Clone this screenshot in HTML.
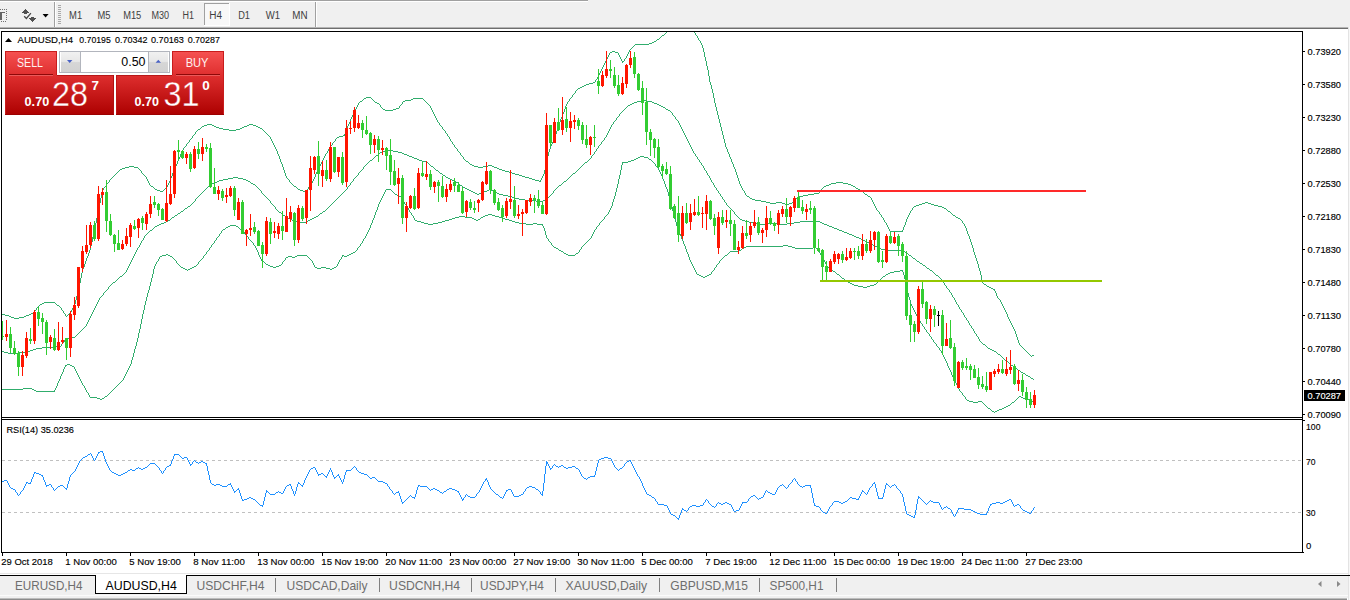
<!DOCTYPE html>
<html><head><meta charset="utf-8"><title>AUDUSD,H4</title>
<style>html,body{margin:0;padding:0;background:#fff;}body{width:1350px;height:600px;overflow:hidden;position:relative;font-family:"Liberation Sans",sans-serif;}svg{position:absolute;left:0;top:0;display:block;}text{font-family:"Liberation Sans",sans-serif;white-space:pre;}</style>
</head><body>
<svg width="1350" height="600" viewBox="0 0 1350 600">
<defs>
<linearGradient id="rg" x1="0" y1="51" x2="0" y2="115" gradientUnits="userSpaceOnUse"><stop offset="0" stop-color="#f65252"/><stop offset="0.36" stop-color="#e03030"/><stop offset="1" stop-color="#ac0000"/></linearGradient>
<linearGradient id="bg" x1="0" y1="0" x2="0" y2="1"><stop offset="0" stop-color="#f1f1f1"/><stop offset="0.47" stop-color="#e7e7e7"/><stop offset="0.53" stop-color="#d6d6d6"/><stop offset="1" stop-color="#d2d2d2"/></linearGradient>
<clipPath id="mc"><rect x="2" y="32" width="1300" height="385"/></clipPath>
</defs>
<g shape-rendering="crispEdges">
<rect x="0" y="0" width="1350" height="27" fill="#f0f0f0" />
<rect x="0" y="0" width="588" height="1" fill="#a0a0a0" />
<rect x="0" y="1" width="588" height="1" fill="#ffffff" />
<rect x="0" y="27" width="1348" height="1" fill="#b4b4b4" />
<rect x="0" y="28" width="1348" height="1" fill="#6e6e6e" />
<rect x="1348" y="27" width="1" height="573" fill="#e3e3e3" />
<rect x="1349" y="27" width="1" height="573" fill="#f7f7f7" />
<rect x="0" y="12" width="5" height="1" fill="#646464" />
<rect x="0" y="13" width="2" height="7" fill="#646464" />
<rect x="0" y="9" width="1" height="1" fill="#707070" />
<rect x="2" y="9" width="1" height="1" fill="#707070" />
<rect x="4" y="9" width="1" height="1" fill="#707070" />
<rect x="6" y="9" width="1" height="1" fill="#707070" />
<rect x="6" y="11" width="1" height="1" fill="#707070" />
<rect x="6" y="13" width="1" height="1" fill="#707070" />
<rect x="6" y="15" width="1" height="1" fill="#707070" />
<rect x="6" y="17" width="1" height="1" fill="#707070" />
<rect x="6" y="19" width="1" height="1" fill="#707070" />
<rect x="1" y="21" width="1" height="1" fill="#707070" />
<rect x="3" y="21" width="1" height="1" fill="#707070" />
<rect x="5" y="21" width="1" height="1" fill="#707070" />
<rect x="54" y="2" width="1" height="25" fill="#a0a0a0" />
<rect x="55" y="2" width="1" height="25" fill="#ffffff" />
<rect x="58" y="5" width="3" height="1" fill="#a8a8a8" />
<rect x="58" y="7" width="3" height="1" fill="#a8a8a8" />
<rect x="58" y="9" width="3" height="1" fill="#a8a8a8" />
<rect x="58" y="11" width="3" height="1" fill="#a8a8a8" />
<rect x="58" y="13" width="3" height="1" fill="#a8a8a8" />
<rect x="58" y="15" width="3" height="1" fill="#a8a8a8" />
<rect x="58" y="17" width="3" height="1" fill="#a8a8a8" />
<rect x="58" y="19" width="3" height="1" fill="#a8a8a8" />
<rect x="58" y="21" width="3" height="1" fill="#a8a8a8" />
<rect x="58" y="23" width="3" height="1" fill="#a8a8a8" />
<rect x="315" y="2" width="1" height="25" fill="#a0a0a0" />
<rect x="316" y="2" width="1" height="25" fill="#ffffff" />
<rect x="204" y="3" width="26" height="23" fill="#f8f8f8" />
<rect x="204" y="3" width="26" height="1" fill="#a0a0a0" />
<rect x="204" y="3" width="1" height="23" fill="#a0a0a0" />
<rect x="204" y="25" width="26" height="1" fill="#ffffff" />
<rect x="229" y="3" width="1" height="23" fill="#ffffff" />
</g>
<g fill="#505050" shape-rendering="crispEdges">
<rect x="25" y="9" width="1" height="1" fill="#505050" />
<rect x="24" y="10" width="3" height="1" fill="#505050" />
<rect x="23" y="11" width="5" height="1" fill="#505050" />
<rect x="22" y="12" width="7" height="1" fill="#505050" />
<rect x="24" y="13" width="3" height="1" fill="#505050" />
<rect x="31" y="17" width="3" height="1" fill="#505050" />
<rect x="29" y="18" width="7" height="1" fill="#505050" />
<rect x="30" y="19" width="5" height="1" fill="#505050" />
<rect x="31" y="20" width="3" height="1" fill="#505050" />
<rect x="32" y="21" width="1" height="1" fill="#505050" />
</g>
<path d="M24.2 16.2 L26.4 18.5 L30.9 13.2" fill="none" stroke="#484848" stroke-width="1.3"/>
<path d="M42.6 14 L48.6 14 L45.6 17.5 Z" fill="#000"/>
<text x="69.1" y="19" font-size="10" fill="#404040" textLength="13.1" lengthAdjust="spacingAndGlyphs" >M1</text>
<text x="97.5" y="19" font-size="10" fill="#404040" textLength="13.0" lengthAdjust="spacingAndGlyphs" >M5</text>
<text x="123.2" y="19" font-size="10" fill="#404040" textLength="18.1" lengthAdjust="spacingAndGlyphs" >M15</text>
<text x="151.4" y="19" font-size="10" fill="#404040" textLength="17.6" lengthAdjust="spacingAndGlyphs" >M30</text>
<text x="182.5" y="19" font-size="10" fill="#404040" textLength="11.5" lengthAdjust="spacingAndGlyphs" >H1</text>
<text x="209.2" y="19" font-size="10" fill="#404040" textLength="12.8" lengthAdjust="spacingAndGlyphs" >H4</text>
<text x="238.2" y="19" font-size="10" fill="#404040" textLength="11.8" lengthAdjust="spacingAndGlyphs" >D1</text>
<text x="265.7" y="19" font-size="10" fill="#404040" textLength="14.3" lengthAdjust="spacingAndGlyphs" >W1</text>
<text x="292.2" y="19" font-size="10" fill="#404040" textLength="15.3" lengthAdjust="spacingAndGlyphs" >MN</text>
<g shape-rendering="crispEdges">
<rect x="1" y="31" width="1302" height="1" fill="#000" />
<rect x="1" y="31" width="1" height="522" fill="#000" />
<rect x="1302" y="31" width="1" height="522" fill="#000" />
<rect x="1" y="417" width="1302" height="1" fill="#000" />
<rect x="1" y="419" width="1302" height="1" fill="#000" />
<rect x="1" y="552" width="1303" height="1" fill="#000" />
<rect x="1303" y="51" width="2" height="1" fill="#000" />
<rect x="1303" y="84" width="2" height="1" fill="#000" />
<rect x="1303" y="117" width="2" height="1" fill="#000" />
<rect x="1303" y="150" width="2" height="1" fill="#000" />
<rect x="1303" y="183" width="2" height="1" fill="#000" />
<rect x="1303" y="216" width="2" height="1" fill="#000" />
<rect x="1303" y="249" width="2" height="1" fill="#000" />
<rect x="1303" y="282" width="2" height="1" fill="#000" />
<rect x="1303" y="315" width="2" height="1" fill="#000" />
<rect x="1303" y="348" width="2" height="1" fill="#000" />
<rect x="1303" y="381" width="2" height="1" fill="#000" />
<rect x="1303" y="414" width="2" height="1" fill="#000" />
<rect x="1303" y="420" width="2" height="1" fill="#000" />
<rect x="2" y="553" width="1" height="3" fill="#000" />
<rect x="66" y="553" width="1" height="3" fill="#000" />
<rect x="130" y="553" width="1" height="3" fill="#000" />
<rect x="194" y="553" width="1" height="3" fill="#000" />
<rect x="258" y="553" width="1" height="3" fill="#000" />
<rect x="322" y="553" width="1" height="3" fill="#000" />
<rect x="386" y="553" width="1" height="3" fill="#000" />
<rect x="450" y="553" width="1" height="3" fill="#000" />
<rect x="514" y="553" width="1" height="3" fill="#000" />
<rect x="578" y="553" width="1" height="3" fill="#000" />
<rect x="642" y="553" width="1" height="3" fill="#000" />
<rect x="706" y="553" width="1" height="3" fill="#000" />
<rect x="770" y="553" width="1" height="3" fill="#000" />
<rect x="834" y="553" width="1" height="3" fill="#000" />
<rect x="898" y="553" width="1" height="3" fill="#000" />
<rect x="962" y="553" width="1" height="3" fill="#000" />
<rect x="1026" y="553" width="1" height="3" fill="#000" />
<line x1="2" y1="460.5" x2="1302" y2="460.5" stroke="#c0c0c0" stroke-width="1" stroke-dasharray="3,3"/>
<line x1="2" y1="512.5" x2="1302" y2="512.5" stroke="#c0c0c0" stroke-width="1" stroke-dasharray="3,3"/>
</g>
<g clip-path="url(#mc)">
<path d="M725.5 143v4M970.5 239v3M550.5 146v3M75.5 300v4M705.5 57v4M718.5 115v4M96.5 218v5M78.5 287v5M545.5 164v6M283.5 167v3M905.5 222v3M704.5 52v5M714.5 98v5M82.5 269v4M549.5 149v3M976.5 258v3M1018.5 340v3M979.5 268v3M738.5 178v3M565.5 106v3M86.5 258v3M971.5 242v3M77.5 292v4M99.5 203v5M903.5 227v3M81.5 273v5M102.5 190v3M710.5 82v3M713.5 93v5M76.5 296v4M553.5 139v3M727.5 149v3M175.5 166v3M98.5 208v5M1017.5 337v3M80.5 278v5M709.5 76v6M719.5 119v4M737.5 175v3M722.5 131v4M101.5 193v5M284.5 170v3M715.5 103v4M559.5 122v3M716.5 107v4M97.5 213v5M980.5 271v4M350.5 119v3M973.5 248v4M558.5 125v3M708.5 70v6M172.5 173v3M279.5 156v3M280.5 159v3M721.5 127v4M562.5 114v3M95.5 223v5M544.5 170v4M972.5 245v3M717.5 111v4M707.5 66v4M85.5 261v3M1007.5 314v3M966.5 228v3M967.5 231v3M906.5 219v3M723.5 135v4M996.5 293v3M93.5 232v5M285.5 173v3M347.5 126v3M315.5 174v3M88.5 253v3M170.5 178v3M977.5 261v3M346.5 129v3M546.5 159v5M739.5 181v3M91.5 242v4M724.5 139v4M720.5 123v4M703.5 48v4M981.5 275v5M564.5 109v3M733.5 164v3M555.5 134v3M702.5 45v3M92.5 237v5M1016.5 334v3M969.5 236v3M982.5 280v3M1015.5 331v3M978.5 264v4M90.5 246v4M282.5 164v3M706.5 61v5M548.5 152v4M712.5 89v4M729.5 154v3M547.5 156v3M277.5 151v3M84.5 264v3M177.5 161v3M79.5 283v4M100.5 198v5M711.5 85v4M735.5 169v3M94.5 228v4M560.5 119v3M736.5 172v3M975.5 255v3M731.5 159v3M557.5 128v3M180.5 154v3M556.5 131v3M89.5 250v3M974.5 252v3M770 203.5h6M782 203.5h3M789 203.5h3M873 203.5h1M922 203.5h3M928 203.5h3M157 190.5h3M163 190.5h1M300 190.5h3M306 190.5h1M743 190.5h1M821 190.5h1M860 190.5h1M750 198.5h2M795 198.5h2M871 198.5h1M83 268.5h1M609 54.5h1M618 54.5h1M627 54.5h1M575 92.5h1M362 100.5h1M373 100.5h1M405 100.5h6M424 100.5h1M569 100.5h1M192 136.5h1M269 136.5h1M339 136.5h4M448 136.5h1M667 31.5h1M693 31.5h1M115 174.5h1M143 174.5h1M515 174.5h4M543 174.5h1M189 141.5h1M272 141.5h1M334 141.5h1M451 141.5h1M364 98.5h2M371 98.5h1M413 98.5h10M570 98.5h1M324 156.5h1M462 156.5h1M176 165.5h1M320 165.5h1M472 165.5h2M488 165.5h4M112 177.5h1M146 177.5h1M171 177.5h1M286 177.5h1M314 177.5h1M525 177.5h4M542 177.5h1M125 167.5h4M134 167.5h4M319 167.5h1M478 167.5h5M494 167.5h3M734 167.5h1M109 180.5h1M147 180.5h1M289 180.5h1M313 180.5h1M535 180.5h4M540 180.5h1M179 157.5h1M324 157.5h1M463 157.5h1M730 157.5h1M635 44.5h14M701 44.5h1M129 166.5h5M319 166.5h1M474 166.5h4M483 166.5h5M492 166.5h2M593 82.5h2M357 105.5h1M380 105.5h1M400 105.5h1M429 105.5h1M566 105.5h1M9 316.5h2M24 316.5h2M66 316.5h1M42 303.5h2M55 303.5h1M1001 303.5h1M355 110.5h1M385 110.5h8M432 110.5h1M109 181.5h1M148 181.5h1M169 181.5h1M289 181.5h1M312 181.5h1M539 181.5h2M359 102.5h1M375 102.5h2M402 102.5h1M426 102.5h1M567 102.5h1M36 308.5h1M61 308.5h1M72 308.5h1M1004 308.5h1M103 188.5h1M154 188.5h1M165 188.5h1M297 188.5h1M308 188.5h1M742 188.5h1M822 188.5h1M856 188.5h2M652 42.5h2M700 42.5h1M675 25.5h1M687 25.5h2M746 195.5h1M803 195.5h5M867 195.5h1M612 51.5h3M629 51.5h1M747 196.5h2M799 196.5h4M868 196.5h2M198 129.5h2M223 129.5h6M236 129.5h4M262 129.5h1M443 129.5h1M184 147.5h1M275 147.5h1M329 147.5h1M455 147.5h1M726 147.5h1M5 315.5h4M26 315.5h3M65 315.5h1M67 315.5h1M38 306.5h1M59 306.5h1M73 306.5h1M1003 306.5h1M1012 325.5h1M278 154.5h1M325 154.5h1M460 154.5h1M202 126.5h2M214 126.5h2M244 126.5h3M256 126.5h2M441 126.5h1M31 313.5h2M64 313.5h1M69 313.5h1M1006 313.5h1M993 289.5h2M888 227.5h1M965 227.5h1M119 170.5h1M140 170.5h1M174 170.5h1M317 170.5h1M502 170.5h3M355 109.5h1M383 109.5h2M393 109.5h3M431 109.5h1M35 310.5h1M62 310.5h1M71 310.5h1M1005 310.5h1M363 99.5h1M372 99.5h1M411 99.5h2M423 99.5h1M569 99.5h1M752 199.5h3M794 199.5h1M871 199.5h1M44 302.5h11M1001 302.5h1M107 183.5h1M149 183.5h1M168 183.5h1M291 183.5h1M311 183.5h1M831 183.5h5M843 183.5h5M436 119.5h1M744 192.5h1M819 192.5h1M863 192.5h1M190 139.5h1M271 139.5h1M335 139.5h1M450 139.5h1M106 185.5h1M150 185.5h1M167 185.5h1M293 185.5h1M310 185.5h1M740 185.5h1M826 185.5h3M851 185.5h2M186 145.5h1M274 145.5h1M331 145.5h1M454 145.5h1M551 145.5h1M360 101.5h2M374 101.5h1M403 101.5h2M425 101.5h1M568 101.5h1M890 231.5h13M745 194.5h1M808 194.5h6M865 194.5h2M631 48.5h1M108 182.5h1M148 182.5h1M169 182.5h1M290 182.5h1M312 182.5h1M836 182.5h7M662 35.5h2M696 35.5h1M194 134.5h1M267 134.5h1M344 134.5h1M447 134.5h1M356 108.5h1M382 108.5h1M396 108.5h3M431 108.5h1M603 65.5h1M116 173.5h1M142 173.5h1M316 173.5h1M512 173.5h3M749 197.5h1M797 197.5h2M870 197.5h1M755 200.5h6M793 200.5h1M872 200.5h1M106 184.5h1M149 184.5h1M168 184.5h1M292 184.5h1M311 184.5h1M740 184.5h1M829 184.5h2M848 184.5h3M766 202.5h4M776 202.5h6M792 202.5h1M873 202.5h1M925 202.5h3M195 132.5h1M265 132.5h1M345 132.5h1M445 132.5h1M610 52.5h2M615 52.5h3M628 52.5h1M1010 322.5h1M1013 327.5h1M572 96.5h1M875 206.5h1M914 206.5h2M938 206.5h4M207 124.5h5M249 124.5h4M348 124.5h1M439 124.5h1M189 140.5h1M271 140.5h1M335 140.5h1M450 140.5h1M113 176.5h1M145 176.5h1M171 176.5h1M286 176.5h1M522 176.5h3M542 176.5h1M183 148.5h1M275 148.5h1M329 148.5h1M456 148.5h1M726 148.5h1M2 314.5h3M29 314.5h2M65 314.5h1M68 314.5h1M995 291.5h1M351 118.5h1M436 118.5h1M561 118.5h1M607 57.5h1M620 57.5h1M626 57.5h1M609 53.5h1M618 53.5h1M628 53.5h1M575 91.5h1M349 122.5h1M438 122.5h1M204 125.5h3M212 125.5h2M247 125.5h2M253 125.5h3M348 125.5h1M440 125.5h1M745 193.5h1M814 193.5h5M864 193.5h1M110 179.5h1M147 179.5h1M288 179.5h1M313 179.5h1M532 179.5h3M541 179.5h1M322 161.5h1M466 161.5h2M880 214.5h1M909 214.5h1M952 214.5h1M876 208.5h1M912 208.5h1M944 208.5h2M182 150.5h1M276 150.5h1M328 150.5h1M457 150.5h1M991 288.5h2M366 97.5h5M571 97.5h1M672 27.5h1M690 27.5h1M761 201.5h5M793 201.5h1M872 201.5h1M160 191.5h3M303 191.5h3M744 191.5h1M820 191.5h1M861 191.5h2M281 162.5h1M321 162.5h1M468 162.5h1M732 162.5h1M105 186.5h1M151 186.5h2M167 186.5h1M294 186.5h2M309 186.5h1M741 186.5h1M824 186.5h2M853 186.5h2M606 59.5h1M621 59.5h1M624 59.5h1M114 175.5h1M144 175.5h1M519 175.5h3M543 175.5h1M103 189.5h1M155 189.5h2M164 189.5h1M298 189.5h2M307 189.5h1M742 189.5h1M821 189.5h1M858 189.5h2M649 43.5h3M701 43.5h1M188 142.5h1M272 142.5h1M333 142.5h1M452 142.5h1M552 142.5h1M111 178.5h1M146 178.5h1M287 178.5h1M314 178.5h1M529 178.5h3M541 178.5h1M673 26.5h2M689 26.5h1M34 311.5h1M63 311.5h1M71 311.5h1M1005 311.5h1M882 217.5h1M907 217.5h1M956 217.5h2M356 107.5h1M381 107.5h1M399 107.5h1M430 107.5h1M1019 344.5h1M358 104.5h1M379 104.5h1M401 104.5h1M428 104.5h1M566 104.5h1M968 234.5h1M997 297.5h1M281 163.5h1M321 163.5h1M469 163.5h1M732 163.5h1M600 72.5h1M39 305.5h1M57 305.5h2M74 305.5h1M1002 305.5h1M201 127.5h1M216 127.5h3M242 127.5h2M258 127.5h2M442 127.5h1M607 58.5h1M620 58.5h1M625 58.5h1M200 128.5h1M219 128.5h4M240 128.5h2M260 128.5h2M442 128.5h1M278 155.5h1M325 155.5h1M461 155.5h1M875 207.5h1M913 207.5h1M942 207.5h2M351 117.5h1M435 117.5h1M561 117.5h1M657 39.5h2M698 39.5h1M656 40.5h1M699 40.5h1M654 41.5h2M700 41.5h1M11 317.5h3M19 317.5h5M1008 317.5h1M37 307.5h1M60 307.5h1M73 307.5h1M1003 307.5h1M599 74.5h1M117 172.5h1M141 172.5h1M173 172.5h1M316 172.5h1M509 172.5h3M883 219.5h1M960 219.5h1M595 81.5h1M1014 330.5h1M187 143.5h1M273 143.5h1M332 143.5h1M452 143.5h1M552 143.5h1M884 220.5h1M961 220.5h1M634 45.5h1M877 210.5h1M911 210.5h1M947 210.5h1M1020 345.5h1M1021 346.5h1M984 284.5h2M580 87.5h2M676 24.5h2M684 24.5h3M999 299.5h1M605 61.5h1M622 61.5h2M179 158.5h1M323 158.5h1M463 158.5h1M730 158.5h1M1027 352.5h1M582 86.5h2M669 29.5h2M691 29.5h1M358 103.5h1M377 103.5h2M402 103.5h1M427 103.5h1M567 103.5h1M197 130.5h1M229 130.5h7M263 130.5h1M444 130.5h1M178 159.5h1M323 159.5h1M464 159.5h1M785 204.5h4M874 204.5h1M919 204.5h3M931 204.5h3M104 187.5h1M153 187.5h1M166 187.5h1M296 187.5h1M308 187.5h1M741 187.5h1M823 187.5h1M855 187.5h1M1012 326.5h1M176 164.5h1M320 164.5h1M470 164.5h2M1019 343.5h1M186 144.5h1M273 144.5h1M332 144.5h1M453 144.5h1M551 144.5h1M997 296.5h1M602 68.5h1M887 225.5h1M904 225.5h1M964 225.5h1M437 121.5h1M14 318.5h5M1008 318.5h1M185 146.5h1M274 146.5h1M330 146.5h1M454 146.5h1M178 160.5h1M322 160.5h1M465 160.5h1M589 83.5h4M193 135.5h1M268 135.5h1M343 135.5h2M447 135.5h1M1014 329.5h1M874 205.5h1M916 205.5h3M934 205.5h4M666 32.5h1M694 32.5h1M1030 355.5h1M1032 355.5h2M183 149.5h1M276 149.5h1M328 149.5h1M457 149.5h1M191 138.5h1M270 138.5h1M336 138.5h1M449 138.5h1M554 138.5h1M182 151.5h1M327 151.5h1M458 151.5h1M671 28.5h1M691 28.5h1M606 60.5h1M621 60.5h1M624 60.5h1M1023 348.5h1M602 67.5h1M192 137.5h1M270 137.5h1M337 137.5h2M449 137.5h1M554 137.5h1M680 22.5h2M437 120.5h1M120 169.5h2M139 169.5h1M174 169.5h1M318 169.5h1M499 169.5h3M181 152.5h1M327 152.5h1M459 152.5h1M728 152.5h1M357 106.5h1M380 106.5h1M399 106.5h1M430 106.5h1M886 224.5h1M964 224.5h1M33 312.5h1M63 312.5h1M70 312.5h1M1006 312.5h1M881 215.5h1M908 215.5h1M953 215.5h2M659 38.5h1M698 38.5h1M968 235.5h1M87 257.5h1M601 69.5h1M354 112.5h1M433 112.5h1M563 112.5h1M36 309.5h1M61 309.5h1M72 309.5h1M1004 309.5h1M1025 350.5h1M878 211.5h1M910 211.5h1M948 211.5h2M1026 351.5h1M879 212.5h1M910 212.5h1M950 212.5h1M118 171.5h1M141 171.5h1M173 171.5h1M317 171.5h1M505 171.5h4M196 131.5h1M264 131.5h1M445 131.5h1M349 123.5h1M439 123.5h1M573 94.5h1M884 221.5h1M962 221.5h1M665 33.5h1M695 33.5h1M876 209.5h1M912 209.5h1M946 209.5h1M1000 301.5h1M605 62.5h1M622 62.5h1M608 56.5h1M619 56.5h1M626 56.5h1M883 218.5h1M907 218.5h1M958 218.5h2M1028 353.5h1M886 223.5h1M963 223.5h1M87 256.5h1M354 111.5h1M432 111.5h1M998 298.5h1M678 23.5h2M682 23.5h2M40 304.5h2M56 304.5h1M74 304.5h1M1002 304.5h1M887 226.5h1M904 226.5h1M965 226.5h1M598 75.5h1M1009 320.5h1M122 168.5h3M138 168.5h1M318 168.5h1M497 168.5h2M734 168.5h1M664 34.5h1M695 34.5h1M633 46.5h1M994 290.5h1M353 113.5h1M433 113.5h1M563 113.5h1M597 78.5h1M1022 347.5h1M608 55.5h1M619 55.5h1M627 55.5h1M1000 300.5h1M352 115.5h1M434 115.5h1M577 89.5h1M1011 323.5h1M668 30.5h1M692 30.5h1M1024 349.5h1M1009 319.5h1M1031 356.5h1M601 70.5h1M353 114.5h1M434 114.5h1M597 77.5h1M574 93.5h1M632 47.5h1M881 216.5h1M908 216.5h1M955 216.5h1M596 79.5h1M888 228.5h1M889 229.5h1M661 36.5h1M697 36.5h1M584 85.5h2M604 63.5h1M195 133.5h1M266 133.5h1M345 133.5h1M446 133.5h1M181 153.5h1M326 153.5h1M460 153.5h1M728 153.5h1M598 76.5h1M879 213.5h1M909 213.5h1M951 213.5h1M885 222.5h1M962 222.5h1M660 37.5h1M697 37.5h1M578 88.5h2M83 267.5h1M989 287.5h2M352 116.5h1M435 116.5h1M1011 324.5h1M1029 354.5h1M986 285.5h1M586 84.5h3M1010 321.5h1M889 230.5h1M902 230.5h1M572 95.5h1M630 49.5h1M987 286.5h2M983 283.5h1M604 64.5h1M600 71.5h1M603 66.5h1M576 90.5h1M599 73.5h1M1013 328.5h1M595 80.5h1M629 50.5h1M995 292.5h1" fill="none" stroke="#30ad6c" stroke-width="1" shape-rendering="crispEdges"/>
<path d="M620 113.5h1M672 113.5h1M178 213.5h2M281 213.5h1M320 213.5h2M734 213.5h1M366 164.5h1M429 164.5h1M583 164.5h1M701 164.5h1M370 160.5h2M419 160.5h3M588 160.5h1M699 160.5h1M113 282.5h2M943 282.5h1M607 134.5h1M684 134.5h1M171 218.5h1M288 218.5h2M312 218.5h2M739 218.5h1M144 237.5h1M856 237.5h3M8 353.5h10M997 353.5h1M627 106.5h1M661 106.5h2M147 233.5h1M847 233.5h2M78 333.5h1M975 333.5h1M223 179.5h5M243 179.5h3M353 179.5h1M450 179.5h2M567 179.5h1M710 179.5h1M202 192.5h1M261 192.5h1M343 192.5h1M473 192.5h2M481 192.5h3M495 192.5h2M553 192.5h1M718 192.5h1M357 175.5h1M443 175.5h2M571 175.5h1M708 175.5h1M619 115.5h1M673 115.5h1M136 250.5h1M886 250.5h16M68 338.5h4M978 338.5h1M110 285.5h1M945 285.5h1M183 210.5h1M277 210.5h1M325 210.5h1M732 210.5h1M90 316.5h1M964 316.5h1M195 200.5h1M269 200.5h1M335 200.5h1M525 200.5h11M543 200.5h2M724 200.5h1M137 248.5h1M879 248.5h2M382 151.5h4M393 151.5h5M595 151.5h1M693 151.5h1M207 187.5h1M257 187.5h1M347 187.5h1M463 187.5h2M557 187.5h1M715 187.5h1M632 103.5h2M654 103.5h3M369 161.5h1M422 161.5h4M587 161.5h1M699 161.5h1M149 231.5h1M842 231.5h2M166 221.5h2M294 221.5h6M306 221.5h2M745 221.5h4M800 221.5h20M161 223.5h3M753 223.5h6M766 223.5h11M787 223.5h7M822 223.5h2M172 217.5h2M286 217.5h2M314 217.5h2M738 217.5h1M194 201.5h1M270 201.5h1M334 201.5h1M536 201.5h7M724 201.5h1M208 186.5h1M256 186.5h1M348 186.5h1M462 186.5h1M558 186.5h1M714 186.5h1M199 195.5h1M264 195.5h1M340 195.5h1M503 195.5h5M550 195.5h1M720 195.5h1M205 189.5h1M259 189.5h1M346 189.5h1M467 189.5h2M489 189.5h2M555 189.5h1M716 189.5h1M217 181.5h2M248 181.5h2M352 181.5h1M454 181.5h2M564 181.5h2M711 181.5h1M210 184.5h2M253 184.5h2M350 184.5h1M459 184.5h1M561 184.5h1M713 184.5h1M153 228.5h1M834 228.5h3M233 177.5h5M355 177.5h1M446 177.5h2M569 177.5h1M709 177.5h1M198 196.5h1M265 196.5h1M339 196.5h1M508 196.5h4M549 196.5h1M721 196.5h1M164 222.5h2M300 222.5h6M749 222.5h4M794 222.5h6M820 222.5h2M159 224.5h2M759 224.5h7M777 224.5h10M824 224.5h3M201 193.5h1M262 193.5h1M342 193.5h1M475 193.5h2M479 193.5h2M497 193.5h2M552 193.5h1M719 193.5h1M214 182.5h3M250 182.5h1M351 182.5h1M456 182.5h2M563 182.5h1M712 182.5h1M141 241.5h1M865 241.5h2M80 331.5h1M974 331.5h1M4 352.5h4M18 352.5h9M996 352.5h1M42 347.5h11M987 347.5h1M365 165.5h1M430 165.5h1M582 165.5h1M702 165.5h1M89 319.5h1M966 319.5h1M203 191.5h1M261 191.5h1M344 191.5h1M471 191.5h2M484 191.5h3M493 191.5h2M553 191.5h1M718 191.5h1M126 270.5h1M930 270.5h2M108 287.5h1M946 287.5h1M361 170.5h1M436 170.5h2M577 170.5h1M705 170.5h1M212 183.5h2M251 183.5h2M350 183.5h1M458 183.5h1M562 183.5h1M713 183.5h1M611 126.5h1M680 126.5h1M195 199.5h1M268 199.5h1M336 199.5h1M519 199.5h6M545 199.5h1M723 199.5h1M634 102.5h3M652 102.5h2M72 337.5h3M978 337.5h1M600 144.5h1M689 144.5h1M386 150.5h7M596 150.5h1M692 150.5h1M603 140.5h1M687 140.5h1M53 346.5h8M986 346.5h1M604 139.5h1M687 139.5h1M367 163.5h1M428 163.5h1M584 163.5h1M701 163.5h1M133 257.5h1M912 257.5h1M137 249.5h1M881 249.5h5M117 279.5h1M941 279.5h1M62 343.5h1M982 343.5h1M140 244.5h1M871 244.5h2M619 114.5h1M672 114.5h1M359 172.5h1M439 172.5h1M575 172.5h1M706 172.5h1M132 259.5h1M915 259.5h1M184 209.5h1M276 209.5h1M326 209.5h1M731 209.5h1M61 345.5h1M985 345.5h1M375 156.5h1M409 156.5h3M591 156.5h1M696 156.5h1M168 220.5h2M292 220.5h2M308 220.5h2M742 220.5h3M85 326.5h1M971 326.5h1M228 178.5h5M238 178.5h5M354 178.5h1M448 178.5h2M568 178.5h1M710 178.5h1M132 258.5h1M913 258.5h2M200 194.5h1M263 194.5h1M341 194.5h1M477 194.5h2M499 194.5h4M551 194.5h1M720 194.5h1M607 133.5h1M684 133.5h1M192 203.5h1M271 203.5h1M332 203.5h1M726 203.5h1M204 190.5h1M260 190.5h1M345 190.5h1M469 190.5h2M487 190.5h2M491 190.5h2M554 190.5h1M717 190.5h1M120 276.5h2M938 276.5h1M641 100.5h5M379 153.5h1M402 153.5h2M594 153.5h1M694 153.5h1M368 162.5h1M426 162.5h2M585 162.5h2M700 162.5h1M206 188.5h1M258 188.5h1M347 188.5h1M465 188.5h2M556 188.5h1M716 188.5h1M1018 370.5h2M157 225.5h2M827 225.5h2M81 330.5h1M973 330.5h1M185 208.5h2M275 208.5h1M327 208.5h1M730 208.5h1M136 251.5h1M902 251.5h3M362 169.5h1M435 169.5h1M578 169.5h1M704 169.5h1M105 291.5h1M949 291.5h1M177 214.5h1M282 214.5h1M319 214.5h1M735 214.5h1M374 157.5h1M412 157.5h2M591 157.5h1M697 157.5h1M363 168.5h1M434 168.5h1M579 168.5h1M704 168.5h1M1014 367.5h1M175 215.5h2M283 215.5h2M318 215.5h1M736 215.5h1M356 176.5h1M445 176.5h1M570 176.5h1M709 176.5h1M30 350.5h3M992 350.5h2M187 207.5h1M275 207.5h1M328 207.5h1M729 207.5h1M144 236.5h1M854 236.5h2M630 104.5h2M657 104.5h2M1015 368.5h2M380 152.5h2M398 152.5h4M594 152.5h1M693 152.5h1M65 339.5h3M979 339.5h1M133 256.5h1M911 256.5h1M170 219.5h1M290 219.5h2M310 219.5h2M740 219.5h2M608 132.5h1M683 132.5h1M611 125.5h1M680 125.5h1M191 204.5h1M272 204.5h1M331 204.5h1M726 204.5h1M637 101.5h4M646 101.5h6M605 137.5h1M686 137.5h1M127 268.5h1M927 268.5h2M174 216.5h1M285 216.5h1M316 216.5h2M737 216.5h1M93 311.5h1M961 311.5h1M140 243.5h1M869 243.5h2M128 267.5h1M926 267.5h1M1009 363.5h1M209 185.5h1M255 185.5h1M349 185.5h1M460 185.5h2M559 185.5h2M714 185.5h1M118 278.5h1M940 278.5h1M135 253.5h1M907 253.5h1M197 197.5h1M266 197.5h1M338 197.5h1M512 197.5h3M547 197.5h2M722 197.5h1M75 336.5h1M977 336.5h1M181 211.5h2M278 211.5h1M323 211.5h2M733 211.5h1M188 206.5h2M274 206.5h1M329 206.5h1M728 206.5h1M64 341.5h1M980 341.5h1M998 354.5h2M378 154.5h1M404 154.5h3M593 154.5h1M695 154.5h1M111 284.5h1M944 284.5h1M82 329.5h1M973 329.5h1M63 342.5h1M981 342.5h1M196 198.5h1M267 198.5h1M337 198.5h1M515 198.5h4M546 198.5h1M722 198.5h1M606 136.5h1M685 136.5h1M139 246.5h1M875 246.5h2M363 167.5h1M433 167.5h1M580 167.5h1M703 167.5h1M1033 379.5h1M154 227.5h1M832 227.5h2M609 130.5h1M682 130.5h1M143 239.5h1M861 239.5h2M1028 376.5h2M358 173.5h1M440 173.5h2M573 173.5h2M707 173.5h1M616 118.5h1M675 118.5h1M608 131.5h1M683 131.5h1M364 166.5h1M431 166.5h2M581 166.5h1M703 166.5h1M36 348.5h6M988 348.5h2M1010 364.5h1M616 119.5h1M676 119.5h1M612 124.5h1M679 124.5h1M628 105.5h2M659 105.5h2M610 128.5h1M681 128.5h1M99 299.5h1M954 299.5h1M77 334.5h1M976 334.5h1M119 277.5h1M939 277.5h1M622 111.5h1M670 111.5h1M131 260.5h1M916 260.5h1M152 229.5h1M837 229.5h2M123 274.5h1M935 274.5h1M624 109.5h1M666 109.5h2M1031 378.5h2M112 283.5h1M944 283.5h1M130 263.5h1M920 263.5h2M614 121.5h1M678 121.5h1M150 230.5h2M839 230.5h3M155 226.5h2M829 226.5h3M2 351.5h2M27 351.5h3M994 351.5h2M623 110.5h1M668 110.5h2M108 288.5h1M947 288.5h1M606 135.5h1M685 135.5h1M129 264.5h1M922 264.5h1M139 245.5h1M873 245.5h2M95 306.5h1M958 306.5h1M148 232.5h1M844 232.5h3M373 158.5h1M414 158.5h3M590 158.5h1M697 158.5h1M107 289.5h1M948 289.5h1M122 275.5h1M936 275.5h2M33 349.5h3M990 349.5h2M1006 361.5h2M626 107.5h1M663 107.5h2M376 155.5h2M407 155.5h2M592 155.5h1M695 155.5h1M618 116.5h1M674 116.5h1M609 129.5h1M682 129.5h1M131 261.5h1M917 261.5h2M88 321.5h1M968 321.5h1M143 238.5h1M859 238.5h2M617 117.5h1M675 117.5h1M1020 371.5h1M135 252.5h1M905 252.5h2M146 234.5h1M849 234.5h3M219 180.5h4M246 180.5h2M353 180.5h1M452 180.5h2M566 180.5h1M711 180.5h1M1021 372.5h2M597 148.5h1M691 148.5h1M180 212.5h1M279 212.5h2M322 212.5h1M734 212.5h1M145 235.5h1M852 235.5h2M99 298.5h1M954 298.5h1M64 340.5h1M979 340.5h1M1023 373.5h2M142 240.5h1M863 240.5h2M613 122.5h1M678 122.5h1M193 202.5h1M270 202.5h1M333 202.5h1M725 202.5h1M372 159.5h1M417 159.5h2M589 159.5h1M698 159.5h1M613 123.5h1M679 123.5h1M360 171.5h1M438 171.5h1M576 171.5h1M706 171.5h1M141 242.5h1M867 242.5h2M94 308.5h1M959 308.5h1M61 344.5h1M983 344.5h2M126 271.5h1M932 271.5h1M134 255.5h1M909 255.5h2M98 301.5h1M955 301.5h1M130 262.5h1M919 262.5h1M89 318.5h1M966 318.5h1M109 286.5h1M946 286.5h1M96 304.5h1M957 304.5h1M1001 356.5h1M104 292.5h1M950 292.5h1M106 290.5h1M949 290.5h1M610 127.5h1M681 127.5h1M98 300.5h1M955 300.5h1M101 296.5h1M952 296.5h1M1011 365.5h2M125 272.5h1M933 272.5h1M134 254.5h1M908 254.5h1M615 120.5h1M677 120.5h1M1000 355.5h1M138 247.5h1M877 247.5h2M596 149.5h1M692 149.5h1M97 303.5h1M956 303.5h1M129 265.5h1M923 265.5h2M100 297.5h1M953 297.5h1M93 310.5h1M961 310.5h1M358 174.5h1M442 174.5h1M572 174.5h1M707 174.5h1M599 145.5h1M690 145.5h1M625 108.5h1M665 108.5h1M1030 377.5h1M94 309.5h1M960 309.5h1M190 205.5h1M273 205.5h1M330 205.5h1M727 205.5h1M116 280.5h1M941 280.5h1M91 314.5h1M963 314.5h1M97 302.5h1M956 302.5h1M1025 374.5h1M1026 375.5h2M79 332.5h1M974 332.5h1M598 146.5h1M690 146.5h1M95 307.5h1M959 307.5h1M92 313.5h1M963 313.5h1M102 295.5h1M952 295.5h1M124 273.5h1M934 273.5h1M88 320.5h1M967 320.5h1M602 141.5h1M688 141.5h1M103 294.5h1M951 294.5h1M92 312.5h1M962 312.5h1M128 266.5h1M925 266.5h1M86 325.5h1M970 325.5h1M84 327.5h1M971 327.5h1M87 323.5h1M969 323.5h1M1003 358.5h1M1017 369.5h1M598 147.5h1M691 147.5h1M604 138.5h1M686 138.5h1M127 269.5h1M929 269.5h1M96 305.5h1M958 305.5h1M76 335.5h1M976 335.5h1M115 281.5h1M942 281.5h1M1002 357.5h1M103 293.5h1M951 293.5h1M86 324.5h1M969 324.5h1M1013 366.5h1M87 322.5h1M968 322.5h1M621 112.5h1M671 112.5h1M601 143.5h1M689 143.5h1M91 315.5h1M964 315.5h1M90 317.5h1M965 317.5h1M1008 362.5h1M601 142.5h1M688 142.5h1M83 328.5h1M972 328.5h1M1005 360.5h1M1004 359.5h1" fill="none" stroke="#30ad6c" stroke-width="1" shape-rendering="crispEdges"/>
<path d="M151.5 278v4M134.5 349v4M681.5 236v3M258.5 252v3M907.5 289v4M57.5 383v3M910.5 300v4M903.5 272v3M906.5 283v6M137.5 338v4M621.5 165v5M372.5 220v3M676.5 222v4M140.5 324v5M132.5 357v3M665.5 184v3M668.5 192v4M63.5 369v3M139.5 329v4M145.5 301v4M546.5 235v3M689.5 257v3M664.5 181v3M378.5 204v3M951.5 372v3M677.5 226v3M670.5 200v4M688.5 254v3M617.5 184v4M615.5 192v4M612.5 202v4M669.5 196v4M135.5 346v3M141.5 319v5M904.5 275v4M905.5 279v4M375.5 212v3M674.5 215v3M148.5 290v3M619.5 175v4M667.5 189v3M947.5 363v3M614.5 196v3M618.5 179v5M673.5 211v4M60.5 376v3M150.5 282v4M679.5 231v3M154.5 266v3M683.5 241v3M544.5 228v3M152.5 274v4M143.5 310v4M147.5 293v4M142.5 314v5M146.5 297v4M620.5 170v5M672.5 207v4M149.5 286v4M144.5 305v5M908.5 293v4M374.5 215v3M685.5 246v3M622.5 162v3M613.5 199v3M138.5 333v5M616.5 188v4M909.5 297v3M153.5 269v5M136.5 342v4M675.5 218v4M131.5 360v4M377.5 207v3M133.5 353v4M686.5 249v3M662.5 176v3M545.5 231v4M671.5 204v3M370.5 225v3M187 270.5h1M695 270.5h1M713 270.5h1M832 270.5h1M900 270.5h3M62 373.5h1M77 373.5h1M126 373.5h1M90 397.5h7M104 397.5h1M965 397.5h1M1018 397.5h1M1021 397.5h2M206 253.5h1M351 253.5h2M564 253.5h2M576 253.5h2M687 253.5h1M728 253.5h1M820 253.5h1M408 208.5h1M610 208.5h1M984 404.5h1M1010 404.5h1M62 372.5h1M76 372.5h1M126 372.5h1M211 246.5h1M255 246.5h1M359 246.5h1M553 246.5h1M582 246.5h1M746 246.5h37M788 246.5h4M699 275.5h2M707 275.5h2M839 275.5h1M885 275.5h1M56 386.5h1M84 386.5h1M116 386.5h1M957 386.5h1M656 166.5h1M36 391.5h19M86 391.5h1M111 391.5h1M960 391.5h1M56 387.5h1M84 387.5h1M115 387.5h1M958 387.5h1M159 258.5h1M173 258.5h1M202 258.5h1M260 258.5h1M285 258.5h1M309 258.5h1M341 258.5h1M722 258.5h1M823 258.5h1M660 172.5h1M59 380.5h1M80 380.5h1M122 380.5h1M954 380.5h1M219 235.5h1M246 235.5h1M366 235.5h1M592 235.5h1M680 235.5h1M183 268.5h2M190 268.5h2M317 268.5h4M326 268.5h4M332 268.5h2M694 268.5h1M714 268.5h1M829 268.5h2M376 211.5h1M409 211.5h1M609 211.5h1M223 229.5h2M240 229.5h2M369 229.5h1M595 229.5h1M678 229.5h1M413 216.5h1M459 216.5h6M483 216.5h2M495 216.5h4M605 216.5h1M2 389.5h21M32 389.5h2M55 389.5h1M85 389.5h1M113 389.5h1M959 389.5h1M207 251.5h1M257 251.5h1M355 251.5h1M561 251.5h2M579 251.5h1M730 251.5h9M819 251.5h1M230 225.5h6M542 225.5h1M598 225.5h1M185 269.5h2M188 269.5h2M330 269.5h2M694 269.5h1M714 269.5h1M831 269.5h1M162 255.5h4M168 255.5h2M204 255.5h1M259 255.5h1M297 255.5h10M342 255.5h2M347 255.5h2M568 255.5h7M725 255.5h2M821 255.5h1M628 161.5h3M652 161.5h1M210 247.5h1M255 247.5h1M358 247.5h1M554 247.5h2M581 247.5h1M744 247.5h2M792 247.5h3M813 247.5h3M218 236.5h1M247 236.5h1M365 236.5h1M591 236.5h1M697 274.5h2M709 274.5h2M837 274.5h2M886 274.5h2M991 410.5h1M997 410.5h2M213 243.5h1M253 243.5h1M361 243.5h1M551 243.5h1M585 243.5h1M973 402.5h5M982 402.5h1M1012 402.5h2M58 382.5h1M81 382.5h1M120 382.5h1M955 382.5h1M373 218.5h1M414 218.5h1M452 218.5h3M472 218.5h2M480 218.5h1M502 218.5h3M604 218.5h1M65 366.5h1M72 366.5h2M129 366.5h1M948 366.5h1M917 317.5h1M97 398.5h3M102 398.5h2M965 398.5h1M1017 398.5h1M1023 398.5h3M931 337.5h1M412 215.5h1M485 215.5h3M492 215.5h3M606 215.5h1M155 264.5h1M178 264.5h1M197 264.5h1M266 264.5h2M281 264.5h1M313 264.5h1M337 264.5h1M692 264.5h1M717 264.5h1M826 264.5h1M935 343.5h1M215 240.5h1M250 240.5h1M363 240.5h1M548 240.5h1M588 240.5h1M682 240.5h1M987 407.5h1M1004 407.5h2M206 252.5h1M353 252.5h2M563 252.5h1M578 252.5h1M687 252.5h1M729 252.5h1M819 252.5h1M411 213.5h1M608 213.5h1M695 271.5h1M712 271.5h1M833 271.5h2M894 271.5h6M902 271.5h1M990 409.5h1M999 409.5h3M373 219.5h1M414 219.5h1M449 219.5h3M474 219.5h2M478 219.5h2M505 219.5h4M603 219.5h1M216 238.5h1M248 238.5h1M364 238.5h1M547 238.5h1M590 238.5h1M371 224.5h1M428 224.5h5M526 224.5h7M537 224.5h6M599 224.5h1M61 375.5h1M78 375.5h1M125 375.5h1M952 375.5h1M845 280.5h1M879 280.5h1M209 249.5h1M256 249.5h1M357 249.5h1M558 249.5h1M580 249.5h1M741 249.5h1M817 249.5h1M658 168.5h1M89 395.5h1M107 395.5h1M963 395.5h1M211 245.5h1M254 245.5h1M360 245.5h1M552 245.5h1M583 245.5h1M684 245.5h1M783 245.5h5M209 248.5h1M256 248.5h1M357 248.5h1M556 248.5h2M581 248.5h1M742 248.5h2M795 248.5h18M816 248.5h1M64 368.5h1M74 368.5h1M128 368.5h1M949 368.5h1M380 201.5h1M403 201.5h1M212 244.5h1M253 244.5h1M360 244.5h1M551 244.5h1M584 244.5h1M684 244.5h1M23 388.5h9M55 388.5h1M85 388.5h1M114 388.5h1M958 388.5h1M417 221.5h4M442 221.5h3M512 221.5h3M601 221.5h1M945 359.5h1M413 217.5h1M455 217.5h4M465 217.5h7M481 217.5h2M499 217.5h3M604 217.5h1M78 376.5h1M124 376.5h1M952 376.5h1M701 276.5h2M705 276.5h2M840 276.5h1M883 276.5h2M157 261.5h1M176 261.5h1M199 261.5h1M262 261.5h2M283 261.5h1M312 261.5h1M339 261.5h1M690 261.5h1M719 261.5h1M824 261.5h1M634 159.5h2M649 159.5h2M919 320.5h1M983 403.5h1M1011 403.5h1M640 156.5h4M923 326.5h1M180 266.5h1M194 266.5h2M270 266.5h3M276 266.5h3M314 266.5h1M336 266.5h1M693 266.5h1M716 266.5h1M827 266.5h1M379 203.5h1M404 203.5h1M181 267.5h2M192 267.5h2M273 267.5h3M315 267.5h2M321 267.5h5M334 267.5h2M693 267.5h1M715 267.5h1M828 267.5h1M858 286.5h5M867 286.5h3M208 250.5h1M257 250.5h1M356 250.5h1M559 250.5h2M579 250.5h1M739 250.5h2M818 250.5h1M214 241.5h1M251 241.5h1M362 241.5h1M549 241.5h1M587 241.5h1M850 283.5h2M876 283.5h1M386 189.5h5M385 190.5h1M391 190.5h1M421 222.5h3M438 222.5h4M515 222.5h4M600 222.5h1M159 257.5h1M172 257.5h1M203 257.5h1M260 257.5h1M286 257.5h2M292 257.5h3M308 257.5h1M341 257.5h1M723 257.5h1M822 257.5h1M371 223.5h1M424 223.5h4M433 223.5h5M519 223.5h7M533 223.5h4M599 223.5h1M696 273.5h1M711 273.5h1M836 273.5h1M888 273.5h2M225 228.5h1M239 228.5h1M369 228.5h1M596 228.5h1M220 233.5h1M244 233.5h1M367 233.5h1M593 233.5h1M943 356.5h1M219 234.5h1M245 234.5h1M366 234.5h1M592 234.5h1M680 234.5h1M228 226.5h2M236 226.5h2M543 226.5h1M597 226.5h1M415 220.5h2M445 220.5h4M476 220.5h2M509 220.5h3M602 220.5h1M65 365.5h2M70 365.5h2M130 365.5h1M410 212.5h1M608 212.5h1M696 272.5h1M711 272.5h1M835 272.5h1M890 272.5h4M160 256.5h2M170 256.5h2M203 256.5h1M259 256.5h1M288 256.5h4M295 256.5h2M307 256.5h1M342 256.5h1M344 256.5h3M724 256.5h1M821 256.5h1M155 265.5h1M179 265.5h1M196 265.5h1M268 265.5h2M279 265.5h2M314 265.5h1M337 265.5h1M692 265.5h1M716 265.5h1M826 265.5h1M382 196.5h1M399 196.5h2M64 367.5h1M74 367.5h1M129 367.5h1M948 367.5h1M89 396.5h1M105 396.5h2M964 396.5h1M1019 396.5h2M932 339.5h1M848 282.5h2M877 282.5h1M406 206.5h1M611 206.5h1M383 195.5h1M397 195.5h2M79 378.5h1M123 378.5h1M953 378.5h1M82 383.5h1M119 383.5h1M956 383.5h1M655 165.5h1M638 157.5h2M644 157.5h4M969 401.5h4M978 401.5h4M1014 401.5h1M1032 401.5h2M216 239.5h1M249 239.5h1M363 239.5h1M548 239.5h1M589 239.5h1M682 239.5h1M379 202.5h1M404 202.5h1M88 394.5h1M108 394.5h1M962 394.5h1M854 285.5h4M870 285.5h4M933 341.5h1M934 342.5h1M863 287.5h4M75 370.5h1M127 370.5h1M950 370.5h1M61 374.5h1M77 374.5h1M125 374.5h1M59 379.5h1M80 379.5h1M123 379.5h1M954 379.5h1M158 259.5h1M174 259.5h1M201 259.5h1M261 259.5h1M285 259.5h1M310 259.5h1M340 259.5h1M721 259.5h1M823 259.5h1M660 173.5h1M156 263.5h1M177 263.5h1M198 263.5h1M265 263.5h1M282 263.5h1M313 263.5h1M338 263.5h1M691 263.5h1M718 263.5h1M825 263.5h1M657 167.5h1M156 262.5h1M176 262.5h1M198 262.5h1M264 262.5h1M282 262.5h1M312 262.5h1M338 262.5h1M691 262.5h1M719 262.5h1M825 262.5h1M988 408.5h2M1002 408.5h2M217 237.5h1M248 237.5h1M365 237.5h1M591 237.5h1M384 192.5h1M393 192.5h1M967 400.5h2M1015 400.5h1M1029 400.5h3M936 345.5h1M166 254.5h2M205 254.5h1M349 254.5h2M566 254.5h2M575 254.5h1M727 254.5h1M820 254.5h1M842 278.5h2M881 278.5h1M158 260.5h1M175 260.5h1M200 260.5h1M261 260.5h1M284 260.5h1M311 260.5h1M339 260.5h1M690 260.5h1M720 260.5h1M824 260.5h1M221 232.5h1M244 232.5h1M367 232.5h1M593 232.5h1M79 377.5h1M124 377.5h1M953 377.5h1M659 170.5h1M945 360.5h1M946 361.5h1M383 194.5h1M395 194.5h2M75 369.5h1M128 369.5h1M949 369.5h1M920 321.5h1M226 227.5h2M238 227.5h1M543 227.5h1M596 227.5h1M937 346.5h1M938 347.5h1M221 231.5h1M243 231.5h1M368 231.5h1M594 231.5h1M623 162.5h5M653 162.5h1M34 390.5h2M54 390.5h1M86 390.5h1M112 390.5h1M959 390.5h1M703 277.5h2M841 277.5h1M882 277.5h1M912 307.5h1M88 393.5h1M109 393.5h1M962 393.5h1M100 399.5h2M966 399.5h1M1016 399.5h1M1026 399.5h3M407 207.5h1M611 207.5h1M411 214.5h1M488 214.5h4M607 214.5h1M921 323.5h1M922 324.5h1M936 344.5h1M940 350.5h1M381 198.5h1M401 198.5h1M914 310.5h1M382 197.5h1M401 197.5h1M636 158.5h2M648 158.5h1M986 406.5h1M1006 406.5h2M67 364.5h3M130 364.5h1M82 384.5h1M118 384.5h1M956 384.5h1M83 385.5h1M117 385.5h1M957 385.5h1M985 405.5h1M1008 405.5h2M222 230.5h1M242 230.5h1M368 230.5h1M594 230.5h1M678 230.5h1M666 188.5h1M214 242.5h1M252 242.5h1M362 242.5h1M550 242.5h1M586 242.5h1M381 199.5h1M402 199.5h1M385 191.5h1M392 191.5h1M380 200.5h1M403 200.5h1M912 306.5h1M76 371.5h1M127 371.5h1M950 371.5h1M58 381.5h1M81 381.5h1M121 381.5h1M955 381.5h1M408 209.5h1M610 209.5h1M661 174.5h1M384 193.5h1M394 193.5h1M659 171.5h1M666 187.5h1M946 362.5h1M920 322.5h1M924 328.5h1M939 349.5h1M942 354.5h1M913 309.5h1M631 160.5h3M651 160.5h1M916 314.5h1M852 284.5h2M874 284.5h2M922 325.5h1M926 331.5h1M944 357.5h1M941 351.5h1M914 311.5h1M915 312.5h1M924 327.5h1M87 392.5h1M110 392.5h1M961 392.5h1M663 179.5h1M928 333.5h1M939 348.5h1M942 353.5h1M913 308.5h1M376 210.5h1M409 210.5h1M609 210.5h1M926 330.5h1M661 175.5h1M930 336.5h1M405 204.5h1M918 319.5h1M994 412.5h1M916 315.5h1M917 316.5h1M944 358.5h1M941 352.5h1M846 281.5h2M878 281.5h1M992 411.5h2M995 411.5h2M915 313.5h1M918 318.5h1M844 279.5h1M880 279.5h1M911 305.5h1M925 329.5h1M663 180.5h1M929 335.5h1M943 355.5h1M927 332.5h1M931 338.5h1M406 205.5h1M654 163.5h1M655 164.5h1M658 169.5h1M911 304.5h1M929 334.5h1M933 340.5h1" fill="none" stroke="#30ad6c" stroke-width="1" shape-rendering="crispEdges"/>
<g shape-rendering="crispEdges">
<rect x="2" y="321" width="1" height="19" fill="#32cd32" />
<rect x="1" y="336" width="3" height="1" fill="#32cd32" />
<rect x="6" y="320" width="1" height="21" fill="#ff1500" />
<rect x="5" y="334" width="3" height="3" fill="#ff1500" />
<rect x="10" y="327" width="1" height="26" fill="#32cd32" />
<rect x="9" y="334" width="3" height="14" fill="#32cd32" />
<rect x="14" y="341" width="1" height="14" fill="#32cd32" />
<rect x="13" y="348" width="3" height="6" fill="#32cd32" />
<rect x="18" y="351" width="1" height="25" fill="#32cd32" />
<rect x="17" y="353" width="3" height="14" fill="#32cd32" />
<rect x="22" y="351" width="1" height="25" fill="#ff1500" />
<rect x="21" y="355" width="3" height="12" fill="#ff1500" />
<rect x="26" y="332" width="1" height="26" fill="#ff1500" />
<rect x="25" y="338" width="3" height="18" fill="#ff1500" />
<rect x="30" y="328" width="1" height="16" fill="#32cd32" />
<rect x="29" y="339" width="3" height="2" fill="#32cd32" />
<rect x="34" y="310" width="1" height="34" fill="#ff1500" />
<rect x="33" y="312" width="3" height="29" fill="#ff1500" />
<rect x="38" y="307" width="1" height="19" fill="#32cd32" />
<rect x="37" y="312" width="3" height="7" fill="#32cd32" />
<rect x="42" y="313" width="1" height="21" fill="#32cd32" />
<rect x="41" y="318" width="3" height="4" fill="#32cd32" />
<rect x="46" y="320" width="1" height="35" fill="#32cd32" />
<rect x="45" y="322" width="3" height="21" fill="#32cd32" />
<rect x="50" y="335" width="1" height="14" fill="#ff1500" />
<rect x="49" y="337" width="3" height="5" fill="#ff1500" />
<rect x="54" y="329" width="1" height="22" fill="#32cd32" />
<rect x="53" y="338" width="3" height="12" fill="#32cd32" />
<rect x="58" y="322" width="1" height="29" fill="#ff1500" />
<rect x="57" y="342" width="3" height="8" fill="#ff1500" />
<rect x="62" y="327" width="1" height="17" fill="#ff1500" />
<rect x="61" y="340" width="3" height="2" fill="#ff1500" />
<rect x="66" y="338" width="1" height="22" fill="#32cd32" />
<rect x="65" y="338" width="3" height="10" fill="#32cd32" />
<rect x="70" y="311" width="1" height="46" fill="#ff1500" />
<rect x="69" y="314" width="3" height="34" fill="#ff1500" />
<rect x="74" y="297" width="1" height="23" fill="#ff1500" />
<rect x="73" y="305" width="3" height="10" fill="#ff1500" />
<rect x="78" y="267" width="1" height="41" fill="#ff1500" />
<rect x="77" y="267" width="3" height="39" fill="#ff1500" />
<rect x="82" y="246" width="1" height="26" fill="#ff1500" />
<rect x="81" y="251" width="3" height="17" fill="#ff1500" />
<rect x="86" y="225" width="1" height="29" fill="#ff1500" />
<rect x="85" y="245" width="3" height="7" fill="#ff1500" />
<rect x="90" y="222" width="1" height="26" fill="#ff1500" />
<rect x="89" y="225" width="3" height="20" fill="#ff1500" />
<rect x="94" y="221" width="1" height="20" fill="#32cd32" />
<rect x="93" y="225" width="3" height="14" fill="#32cd32" />
<rect x="98" y="186" width="1" height="55" fill="#ff1500" />
<rect x="97" y="194" width="3" height="45" fill="#ff1500" />
<rect x="102" y="188" width="1" height="17" fill="#ff1500" />
<rect x="101" y="192" width="3" height="3" fill="#ff1500" />
<rect x="106" y="180" width="1" height="52" fill="#32cd32" />
<rect x="105" y="192" width="3" height="29" fill="#32cd32" />
<rect x="110" y="214" width="1" height="22" fill="#32cd32" />
<rect x="109" y="221" width="3" height="14" fill="#32cd32" />
<rect x="114" y="234" width="1" height="18" fill="#32cd32" />
<rect x="113" y="235" width="3" height="9" fill="#32cd32" />
<rect x="118" y="230" width="1" height="20" fill="#32cd32" />
<rect x="117" y="243" width="3" height="7" fill="#32cd32" />
<rect x="122" y="240" width="1" height="10" fill="#ff1500" />
<rect x="121" y="244" width="3" height="5" fill="#ff1500" />
<rect x="126" y="228" width="1" height="18" fill="#ff1500" />
<rect x="125" y="236" width="3" height="8" fill="#ff1500" />
<rect x="130" y="223" width="1" height="24" fill="#ff1500" />
<rect x="129" y="225" width="3" height="12" fill="#ff1500" />
<rect x="134" y="220" width="1" height="10" fill="#32cd32" />
<rect x="133" y="226" width="3" height="3" fill="#32cd32" />
<rect x="138" y="218" width="1" height="20" fill="#ff1500" />
<rect x="137" y="219" width="3" height="9" fill="#ff1500" />
<rect x="142" y="216" width="1" height="14" fill="#32cd32" />
<rect x="141" y="218" width="3" height="5" fill="#32cd32" />
<rect x="146" y="212" width="1" height="18" fill="#ff1500" />
<rect x="145" y="214" width="3" height="10" fill="#ff1500" />
<rect x="150" y="196" width="1" height="22" fill="#ff1500" />
<rect x="149" y="204" width="3" height="10" fill="#ff1500" />
<rect x="154" y="196" width="1" height="12" fill="#32cd32" />
<rect x="153" y="202" width="3" height="3" fill="#32cd32" />
<rect x="158" y="203" width="1" height="13" fill="#32cd32" />
<rect x="157" y="204" width="3" height="6" fill="#32cd32" />
<rect x="162" y="208" width="1" height="12" fill="#32cd32" />
<rect x="161" y="209" width="3" height="11" fill="#32cd32" />
<rect x="166" y="180" width="1" height="42" fill="#ff1500" />
<rect x="165" y="203" width="3" height="18" fill="#ff1500" />
<rect x="170" y="166" width="1" height="39" fill="#ff1500" />
<rect x="169" y="194" width="3" height="10" fill="#ff1500" />
<rect x="174" y="150" width="1" height="48" fill="#ff1500" />
<rect x="173" y="151" width="3" height="43" fill="#ff1500" />
<rect x="178" y="140" width="1" height="20" fill="#32cd32" />
<rect x="177" y="150" width="3" height="2" fill="#32cd32" />
<rect x="182" y="150" width="1" height="9" fill="#32cd32" />
<rect x="181" y="151" width="3" height="7" fill="#32cd32" />
<rect x="186" y="152" width="1" height="12" fill="#ff1500" />
<rect x="185" y="154" width="3" height="4" fill="#ff1500" />
<rect x="190" y="152" width="1" height="20" fill="#32cd32" />
<rect x="189" y="154" width="3" height="15" fill="#32cd32" />
<rect x="194" y="146" width="1" height="23" fill="#ff1500" />
<rect x="193" y="149" width="3" height="19" fill="#ff1500" />
<rect x="198" y="142" width="1" height="17" fill="#32cd32" />
<rect x="197" y="149" width="3" height="5" fill="#32cd32" />
<rect x="202" y="138" width="1" height="23" fill="#ff1500" />
<rect x="201" y="147" width="3" height="7" fill="#ff1500" />
<rect x="206" y="144" width="1" height="8" fill="#32cd32" />
<rect x="205" y="147" width="3" height="2" fill="#32cd32" />
<rect x="210" y="143" width="1" height="45" fill="#32cd32" />
<rect x="209" y="148" width="3" height="39" fill="#32cd32" />
<rect x="214" y="168" width="1" height="26" fill="#32cd32" />
<rect x="213" y="187" width="3" height="7" fill="#32cd32" />
<rect x="218" y="186" width="1" height="14" fill="#ff1500" />
<rect x="217" y="190" width="3" height="4" fill="#ff1500" />
<rect x="222" y="189" width="1" height="12" fill="#32cd32" />
<rect x="221" y="191" width="3" height="7" fill="#32cd32" />
<rect x="226" y="188" width="1" height="15" fill="#ff1500" />
<rect x="225" y="195" width="3" height="2" fill="#ff1500" />
<rect x="230" y="186" width="1" height="11" fill="#ff1500" />
<rect x="229" y="188" width="3" height="8" fill="#ff1500" />
<rect x="234" y="186" width="1" height="30" fill="#32cd32" />
<rect x="233" y="188" width="3" height="22" fill="#32cd32" />
<rect x="238" y="198" width="1" height="22" fill="#ff1500" />
<rect x="237" y="202" width="3" height="18" fill="#ff1500" />
<rect x="242" y="200" width="1" height="34" fill="#32cd32" />
<rect x="241" y="202" width="3" height="32" fill="#32cd32" />
<rect x="246" y="229" width="1" height="17" fill="#ff1500" />
<rect x="245" y="230" width="3" height="4" fill="#ff1500" />
<rect x="250" y="214" width="1" height="22" fill="#ff1500" />
<rect x="249" y="228" width="3" height="2" fill="#ff1500" />
<rect x="254" y="222" width="1" height="12" fill="#32cd32" />
<rect x="253" y="227" width="3" height="5" fill="#32cd32" />
<rect x="258" y="230" width="1" height="16" fill="#32cd32" />
<rect x="257" y="231" width="3" height="15" fill="#32cd32" />
<rect x="262" y="242" width="1" height="26" fill="#32cd32" />
<rect x="261" y="245" width="3" height="9" fill="#32cd32" />
<rect x="266" y="217" width="1" height="39" fill="#ff1500" />
<rect x="265" y="221" width="3" height="33" fill="#ff1500" />
<rect x="270" y="218" width="1" height="26" fill="#32cd32" />
<rect x="269" y="222" width="3" height="12" fill="#32cd32" />
<rect x="274" y="222" width="1" height="16" fill="#ff1500" />
<rect x="273" y="231" width="3" height="2" fill="#ff1500" />
<rect x="278" y="223" width="1" height="16" fill="#ff1500" />
<rect x="277" y="226" width="3" height="8" fill="#ff1500" />
<rect x="282" y="211" width="1" height="29" fill="#32cd32" />
<rect x="281" y="226" width="3" height="5" fill="#32cd32" />
<rect x="286" y="198" width="1" height="34" fill="#ff1500" />
<rect x="285" y="216" width="3" height="16" fill="#ff1500" />
<rect x="290" y="206" width="1" height="16" fill="#ff1500" />
<rect x="289" y="212" width="3" height="7" fill="#ff1500" />
<rect x="294" y="212" width="1" height="34" fill="#32cd32" />
<rect x="293" y="213" width="3" height="27" fill="#32cd32" />
<rect x="298" y="205" width="1" height="38" fill="#ff1500" />
<rect x="297" y="208" width="3" height="32" fill="#ff1500" />
<rect x="302" y="206" width="1" height="15" fill="#32cd32" />
<rect x="301" y="208" width="3" height="11" fill="#32cd32" />
<rect x="306" y="190" width="1" height="34" fill="#ff1500" />
<rect x="305" y="190" width="3" height="28" fill="#ff1500" />
<rect x="310" y="156" width="1" height="55" fill="#ff1500" />
<rect x="309" y="168" width="3" height="22" fill="#ff1500" />
<rect x="314" y="156" width="1" height="18" fill="#ff1500" />
<rect x="313" y="157" width="3" height="13" fill="#ff1500" />
<rect x="318" y="141" width="1" height="45" fill="#32cd32" />
<rect x="317" y="156" width="3" height="18" fill="#32cd32" />
<rect x="322" y="161" width="1" height="26" fill="#ff1500" />
<rect x="321" y="170" width="3" height="6" fill="#ff1500" />
<rect x="326" y="160" width="1" height="21" fill="#32cd32" />
<rect x="325" y="170" width="3" height="9" fill="#32cd32" />
<rect x="330" y="142" width="1" height="40" fill="#ff1500" />
<rect x="329" y="147" width="3" height="32" fill="#ff1500" />
<rect x="334" y="147" width="1" height="26" fill="#32cd32" />
<rect x="333" y="147" width="3" height="25" fill="#32cd32" />
<rect x="338" y="157" width="1" height="20" fill="#ff1500" />
<rect x="337" y="157" width="3" height="15" fill="#ff1500" />
<rect x="342" y="152" width="1" height="33" fill="#32cd32" />
<rect x="341" y="157" width="3" height="26" fill="#32cd32" />
<rect x="346" y="120" width="1" height="67" fill="#ff1500" />
<rect x="345" y="128" width="3" height="54" fill="#ff1500" />
<rect x="350" y="121" width="1" height="13" fill="#ff1500" />
<rect x="349" y="128" width="3" height="1" fill="#ff1500" />
<rect x="354" y="107" width="1" height="25" fill="#ff1500" />
<rect x="353" y="110" width="3" height="18" fill="#ff1500" />
<rect x="358" y="115" width="1" height="14" fill="#ff1500" />
<rect x="357" y="123" width="3" height="5" fill="#ff1500" />
<rect x="362" y="120" width="1" height="18" fill="#32cd32" />
<rect x="361" y="123" width="3" height="7" fill="#32cd32" />
<rect x="366" y="116" width="1" height="19" fill="#32cd32" />
<rect x="365" y="130" width="3" height="4" fill="#32cd32" />
<rect x="370" y="132" width="1" height="22" fill="#32cd32" />
<rect x="369" y="133" width="3" height="12" fill="#32cd32" />
<rect x="374" y="135" width="1" height="18" fill="#ff1500" />
<rect x="373" y="139" width="3" height="6" fill="#ff1500" />
<rect x="378" y="136" width="1" height="26" fill="#32cd32" />
<rect x="377" y="139" width="3" height="11" fill="#32cd32" />
<rect x="382" y="140" width="1" height="15" fill="#ff1500" />
<rect x="381" y="148" width="3" height="2" fill="#ff1500" />
<rect x="386" y="147" width="1" height="23" fill="#32cd32" />
<rect x="385" y="148" width="3" height="8" fill="#32cd32" />
<rect x="390" y="139" width="1" height="46" fill="#32cd32" />
<rect x="389" y="155" width="3" height="17" fill="#32cd32" />
<rect x="394" y="160" width="1" height="26" fill="#32cd32" />
<rect x="393" y="171" width="3" height="14" fill="#32cd32" />
<rect x="398" y="168" width="1" height="36" fill="#ff1500" />
<rect x="397" y="178" width="3" height="6" fill="#ff1500" />
<rect x="402" y="175" width="1" height="49" fill="#32cd32" />
<rect x="401" y="178" width="3" height="40" fill="#32cd32" />
<rect x="406" y="202" width="1" height="30" fill="#ff1500" />
<rect x="405" y="206" width="3" height="12" fill="#ff1500" />
<rect x="410" y="195" width="1" height="14" fill="#ff1500" />
<rect x="409" y="196" width="3" height="12" fill="#ff1500" />
<rect x="414" y="188" width="1" height="22" fill="#32cd32" />
<rect x="413" y="196" width="3" height="13" fill="#32cd32" />
<rect x="418" y="168" width="1" height="41" fill="#ff1500" />
<rect x="417" y="173" width="3" height="35" fill="#ff1500" />
<rect x="422" y="162" width="1" height="15" fill="#32cd32" />
<rect x="421" y="173" width="3" height="3" fill="#32cd32" />
<rect x="426" y="161" width="1" height="19" fill="#ff1500" />
<rect x="425" y="174" width="3" height="3" fill="#ff1500" />
<rect x="430" y="170" width="1" height="20" fill="#32cd32" />
<rect x="429" y="174" width="3" height="13" fill="#32cd32" />
<rect x="434" y="181" width="1" height="12" fill="#ff1500" />
<rect x="433" y="182" width="3" height="5" fill="#ff1500" />
<rect x="438" y="180" width="1" height="22" fill="#32cd32" />
<rect x="437" y="182" width="3" height="4" fill="#32cd32" />
<rect x="442" y="176" width="1" height="22" fill="#32cd32" />
<rect x="441" y="186" width="3" height="11" fill="#32cd32" />
<rect x="446" y="184" width="1" height="18" fill="#ff1500" />
<rect x="445" y="189" width="3" height="8" fill="#ff1500" />
<rect x="450" y="180" width="1" height="12" fill="#ff1500" />
<rect x="449" y="184" width="3" height="6" fill="#ff1500" />
<rect x="454" y="178" width="1" height="14" fill="#32cd32" />
<rect x="453" y="182" width="3" height="4" fill="#32cd32" />
<rect x="458" y="182" width="1" height="10" fill="#32cd32" />
<rect x="457" y="185" width="3" height="7" fill="#32cd32" />
<rect x="462" y="187" width="1" height="27" fill="#32cd32" />
<rect x="461" y="191" width="3" height="22" fill="#32cd32" />
<rect x="466" y="200" width="1" height="17" fill="#ff1500" />
<rect x="465" y="201" width="3" height="11" fill="#ff1500" />
<rect x="470" y="199" width="1" height="11" fill="#32cd32" />
<rect x="469" y="202" width="3" height="6" fill="#32cd32" />
<rect x="474" y="201" width="1" height="12" fill="#32cd32" />
<rect x="473" y="208" width="3" height="2" fill="#32cd32" />
<rect x="478" y="199" width="1" height="13" fill="#ff1500" />
<rect x="477" y="200" width="3" height="3" fill="#ff1500" />
<rect x="482" y="181" width="1" height="20" fill="#ff1500" />
<rect x="481" y="182" width="3" height="18" fill="#ff1500" />
<rect x="486" y="162" width="1" height="23" fill="#ff1500" />
<rect x="485" y="171" width="3" height="13" fill="#ff1500" />
<rect x="490" y="170" width="1" height="24" fill="#32cd32" />
<rect x="489" y="171" width="3" height="19" fill="#32cd32" />
<rect x="494" y="189" width="1" height="16" fill="#32cd32" />
<rect x="493" y="190" width="3" height="13" fill="#32cd32" />
<rect x="498" y="198" width="1" height="13" fill="#32cd32" />
<rect x="497" y="202" width="3" height="8" fill="#32cd32" />
<rect x="502" y="205" width="1" height="17" fill="#32cd32" />
<rect x="501" y="208" width="3" height="9" fill="#32cd32" />
<rect x="506" y="198" width="1" height="20" fill="#ff1500" />
<rect x="505" y="201" width="3" height="15" fill="#ff1500" />
<rect x="510" y="170" width="1" height="39" fill="#ff1500" />
<rect x="509" y="199" width="3" height="3" fill="#ff1500" />
<rect x="514" y="186" width="1" height="32" fill="#32cd32" />
<rect x="513" y="200" width="3" height="16" fill="#32cd32" />
<rect x="518" y="205" width="1" height="14" fill="#ff1500" />
<rect x="517" y="214" width="3" height="2" fill="#ff1500" />
<rect x="522" y="209" width="1" height="27" fill="#ff1500" />
<rect x="521" y="212" width="3" height="2" fill="#ff1500" />
<rect x="526" y="200" width="1" height="14" fill="#ff1500" />
<rect x="525" y="200" width="3" height="13" fill="#ff1500" />
<rect x="530" y="194" width="1" height="12" fill="#ff1500" />
<rect x="529" y="198" width="3" height="4" fill="#ff1500" />
<rect x="534" y="195" width="1" height="18" fill="#32cd32" />
<rect x="533" y="198" width="3" height="2" fill="#32cd32" />
<rect x="538" y="190" width="1" height="18" fill="#32cd32" />
<rect x="537" y="199" width="3" height="7" fill="#32cd32" />
<rect x="542" y="202" width="1" height="12" fill="#32cd32" />
<rect x="541" y="205" width="3" height="9" fill="#32cd32" />
<rect x="546" y="113" width="1" height="102" fill="#ff1500" />
<rect x="545" y="125" width="3" height="89" fill="#ff1500" />
<rect x="550" y="125" width="1" height="21" fill="#32cd32" />
<rect x="549" y="125" width="3" height="18" fill="#32cd32" />
<rect x="554" y="118" width="1" height="25" fill="#ff1500" />
<rect x="553" y="122" width="3" height="21" fill="#ff1500" />
<rect x="558" y="108" width="1" height="23" fill="#32cd32" />
<rect x="557" y="122" width="3" height="8" fill="#32cd32" />
<rect x="562" y="97" width="1" height="38" fill="#ff1500" />
<rect x="561" y="120" width="3" height="10" fill="#ff1500" />
<rect x="566" y="107" width="1" height="25" fill="#32cd32" />
<rect x="565" y="119" width="3" height="9" fill="#32cd32" />
<rect x="570" y="112" width="1" height="30" fill="#ff1500" />
<rect x="569" y="121" width="3" height="7" fill="#ff1500" />
<rect x="574" y="115" width="1" height="14" fill="#ff1500" />
<rect x="573" y="120" width="3" height="2" fill="#ff1500" />
<rect x="578" y="118" width="1" height="12" fill="#32cd32" />
<rect x="577" y="120" width="3" height="6" fill="#32cd32" />
<rect x="582" y="122" width="1" height="22" fill="#32cd32" />
<rect x="581" y="125" width="3" height="15" fill="#32cd32" />
<rect x="586" y="125" width="1" height="23" fill="#32cd32" />
<rect x="585" y="139" width="3" height="6" fill="#32cd32" />
<rect x="590" y="136" width="1" height="19" fill="#ff1500" />
<rect x="589" y="137" width="3" height="8" fill="#ff1500" />
<rect x="594" y="125" width="1" height="22" fill="#32cd32" />
<rect x="593" y="137" width="3" height="1" fill="#32cd32" />
<rect x="598" y="69" width="1" height="25" fill="#32cd32" />
<rect x="597" y="81" width="3" height="5" fill="#32cd32" />
<rect x="602" y="71" width="1" height="16" fill="#ff1500" />
<rect x="601" y="75" width="3" height="11" fill="#ff1500" />
<rect x="606" y="51" width="1" height="27" fill="#ff1500" />
<rect x="605" y="69" width="3" height="7" fill="#ff1500" />
<rect x="610" y="60" width="1" height="18" fill="#32cd32" />
<rect x="609" y="69" width="3" height="2" fill="#32cd32" />
<rect x="614" y="67" width="1" height="21" fill="#32cd32" />
<rect x="613" y="75" width="3" height="11" fill="#32cd32" />
<rect x="618" y="75" width="1" height="21" fill="#32cd32" />
<rect x="617" y="85" width="3" height="9" fill="#32cd32" />
<rect x="622" y="77" width="1" height="18" fill="#ff1500" />
<rect x="621" y="83" width="3" height="11" fill="#ff1500" />
<rect x="626" y="64" width="1" height="24" fill="#ff1500" />
<rect x="625" y="65" width="3" height="19" fill="#ff1500" />
<rect x="630" y="51" width="1" height="17" fill="#ff1500" />
<rect x="629" y="58" width="3" height="7" fill="#ff1500" />
<rect x="634" y="52" width="1" height="26" fill="#32cd32" />
<rect x="633" y="57" width="3" height="17" fill="#32cd32" />
<rect x="638" y="73" width="1" height="18" fill="#32cd32" />
<rect x="637" y="74" width="3" height="16" fill="#32cd32" />
<rect x="642" y="81" width="1" height="34" fill="#32cd32" />
<rect x="641" y="88" width="3" height="15" fill="#32cd32" />
<rect x="646" y="88" width="1" height="57" fill="#32cd32" />
<rect x="645" y="102" width="3" height="30" fill="#32cd32" />
<rect x="650" y="129" width="1" height="27" fill="#32cd32" />
<rect x="649" y="132" width="3" height="8" fill="#32cd32" />
<rect x="654" y="138" width="1" height="20" fill="#32cd32" />
<rect x="653" y="139" width="3" height="9" fill="#32cd32" />
<rect x="658" y="139" width="1" height="29" fill="#32cd32" />
<rect x="657" y="147" width="3" height="20" fill="#32cd32" />
<rect x="662" y="164" width="1" height="14" fill="#32cd32" />
<rect x="661" y="166" width="3" height="5" fill="#32cd32" />
<rect x="666" y="162" width="1" height="13" fill="#32cd32" />
<rect x="665" y="169" width="3" height="5" fill="#32cd32" />
<rect x="670" y="166" width="1" height="44" fill="#32cd32" />
<rect x="669" y="174" width="3" height="35" fill="#32cd32" />
<rect x="674" y="204" width="1" height="15" fill="#32cd32" />
<rect x="673" y="206" width="3" height="12" fill="#32cd32" />
<rect x="678" y="196" width="1" height="46" fill="#32cd32" />
<rect x="677" y="213" width="3" height="22" fill="#32cd32" />
<rect x="682" y="206" width="1" height="33" fill="#ff1500" />
<rect x="681" y="213" width="3" height="23" fill="#ff1500" />
<rect x="686" y="203" width="1" height="21" fill="#32cd32" />
<rect x="685" y="213" width="3" height="10" fill="#32cd32" />
<rect x="690" y="204" width="1" height="26" fill="#ff1500" />
<rect x="689" y="213" width="3" height="9" fill="#ff1500" />
<rect x="694" y="199" width="1" height="17" fill="#ff1500" />
<rect x="693" y="212" width="3" height="3" fill="#ff1500" />
<rect x="698" y="196" width="1" height="20" fill="#32cd32" />
<rect x="697" y="212" width="3" height="3" fill="#32cd32" />
<rect x="702" y="207" width="1" height="21" fill="#ff1500" />
<rect x="701" y="213" width="3" height="1" fill="#ff1500" />
<rect x="706" y="195" width="1" height="35" fill="#ff1500" />
<rect x="705" y="201" width="3" height="13" fill="#ff1500" />
<rect x="710" y="200" width="1" height="20" fill="#32cd32" />
<rect x="709" y="201" width="3" height="18" fill="#32cd32" />
<rect x="714" y="214" width="1" height="21" fill="#32cd32" />
<rect x="713" y="218" width="3" height="8" fill="#32cd32" />
<rect x="718" y="212" width="1" height="42" fill="#ff1500" />
<rect x="717" y="217" width="3" height="31" fill="#ff1500" />
<rect x="722" y="210" width="1" height="15" fill="#32cd32" />
<rect x="721" y="217" width="3" height="6" fill="#32cd32" />
<rect x="726" y="210" width="1" height="18" fill="#ff1500" />
<rect x="725" y="220" width="3" height="2" fill="#ff1500" />
<rect x="730" y="210" width="1" height="26" fill="#32cd32" />
<rect x="729" y="220" width="3" height="4" fill="#32cd32" />
<rect x="734" y="220" width="1" height="30" fill="#32cd32" />
<rect x="733" y="224" width="3" height="26" fill="#32cd32" />
<rect x="738" y="241" width="1" height="13" fill="#ff1500" />
<rect x="737" y="247" width="3" height="3" fill="#ff1500" />
<rect x="742" y="226" width="1" height="23" fill="#ff1500" />
<rect x="741" y="233" width="3" height="15" fill="#ff1500" />
<rect x="746" y="220" width="1" height="19" fill="#32cd32" />
<rect x="745" y="233" width="3" height="3" fill="#32cd32" />
<rect x="750" y="222" width="1" height="20" fill="#ff1500" />
<rect x="749" y="226" width="3" height="9" fill="#ff1500" />
<rect x="754" y="210" width="1" height="18" fill="#ff1500" />
<rect x="753" y="222" width="3" height="4" fill="#ff1500" />
<rect x="758" y="217" width="1" height="18" fill="#32cd32" />
<rect x="757" y="222" width="3" height="11" fill="#32cd32" />
<rect x="762" y="228" width="1" height="15" fill="#ff1500" />
<rect x="761" y="230" width="3" height="3" fill="#ff1500" />
<rect x="766" y="206" width="1" height="31" fill="#ff1500" />
<rect x="765" y="218" width="3" height="12" fill="#ff1500" />
<rect x="770" y="211" width="1" height="14" fill="#32cd32" />
<rect x="769" y="218" width="3" height="6" fill="#32cd32" />
<rect x="774" y="222" width="1" height="9" fill="#32cd32" />
<rect x="773" y="223" width="3" height="3" fill="#32cd32" />
<rect x="778" y="210" width="1" height="24" fill="#ff1500" />
<rect x="777" y="213" width="3" height="12" fill="#ff1500" />
<rect x="782" y="206" width="1" height="11" fill="#ff1500" />
<rect x="781" y="209" width="3" height="5" fill="#ff1500" />
<rect x="786" y="198" width="1" height="25" fill="#32cd32" />
<rect x="785" y="209" width="3" height="8" fill="#32cd32" />
<rect x="790" y="206" width="1" height="20" fill="#ff1500" />
<rect x="789" y="207" width="3" height="10" fill="#ff1500" />
<rect x="794" y="196" width="1" height="16" fill="#ff1500" />
<rect x="793" y="198" width="3" height="10" fill="#ff1500" />
<rect x="798" y="192" width="1" height="16" fill="#32cd32" />
<rect x="797" y="197" width="3" height="11" fill="#32cd32" />
<rect x="802" y="200" width="1" height="14" fill="#32cd32" />
<rect x="801" y="207" width="3" height="4" fill="#32cd32" />
<rect x="806" y="204" width="1" height="16" fill="#ff1500" />
<rect x="805" y="209" width="3" height="3" fill="#ff1500" />
<rect x="810" y="201" width="1" height="13" fill="#32cd32" />
<rect x="809" y="208" width="3" height="2" fill="#32cd32" />
<rect x="814" y="206" width="1" height="48" fill="#32cd32" />
<rect x="813" y="208" width="3" height="40" fill="#32cd32" />
<rect x="818" y="239" width="1" height="13" fill="#32cd32" />
<rect x="817" y="248" width="3" height="3" fill="#32cd32" />
<rect x="822" y="249" width="1" height="31" fill="#32cd32" />
<rect x="821" y="250" width="3" height="17" fill="#32cd32" />
<rect x="826" y="261" width="1" height="19" fill="#32cd32" />
<rect x="825" y="266" width="3" height="6" fill="#32cd32" />
<rect x="830" y="259" width="1" height="13" fill="#ff1500" />
<rect x="829" y="261" width="3" height="11" fill="#ff1500" />
<rect x="834" y="251" width="1" height="13" fill="#ff1500" />
<rect x="833" y="254" width="3" height="8" fill="#ff1500" />
<rect x="838" y="253" width="1" height="11" fill="#ff1500" />
<rect x="837" y="254" width="3" height="5" fill="#ff1500" />
<rect x="842" y="251" width="1" height="12" fill="#32cd32" />
<rect x="841" y="254" width="3" height="6" fill="#32cd32" />
<rect x="846" y="248" width="1" height="13" fill="#ff1500" />
<rect x="845" y="257" width="3" height="3" fill="#ff1500" />
<rect x="850" y="248" width="1" height="11" fill="#ff1500" />
<rect x="849" y="251" width="3" height="7" fill="#ff1500" />
<rect x="854" y="248" width="1" height="12" fill="#32cd32" />
<rect x="853" y="251" width="3" height="1" fill="#32cd32" />
<rect x="858" y="246" width="1" height="13" fill="#32cd32" />
<rect x="857" y="251" width="3" height="5" fill="#32cd32" />
<rect x="862" y="234" width="1" height="26" fill="#ff1500" />
<rect x="861" y="244" width="3" height="12" fill="#ff1500" />
<rect x="866" y="239" width="1" height="14" fill="#32cd32" />
<rect x="865" y="244" width="3" height="7" fill="#32cd32" />
<rect x="870" y="231" width="1" height="22" fill="#ff1500" />
<rect x="869" y="240" width="3" height="11" fill="#ff1500" />
<rect x="874" y="231" width="1" height="19" fill="#ff1500" />
<rect x="873" y="232" width="3" height="8" fill="#ff1500" />
<rect x="878" y="231" width="1" height="32" fill="#32cd32" />
<rect x="877" y="232" width="3" height="30" fill="#32cd32" />
<rect x="882" y="251" width="1" height="17" fill="#32cd32" />
<rect x="881" y="260" width="3" height="2" fill="#32cd32" />
<rect x="886" y="234" width="1" height="29" fill="#ff1500" />
<rect x="885" y="236" width="3" height="26" fill="#ff1500" />
<rect x="890" y="232" width="1" height="12" fill="#32cd32" />
<rect x="889" y="236" width="3" height="7" fill="#32cd32" />
<rect x="894" y="232" width="1" height="12" fill="#ff1500" />
<rect x="893" y="237" width="3" height="6" fill="#ff1500" />
<rect x="898" y="234" width="1" height="22" fill="#32cd32" />
<rect x="897" y="236" width="3" height="10" fill="#32cd32" />
<rect x="902" y="242" width="1" height="20" fill="#32cd32" />
<rect x="901" y="244" width="3" height="12" fill="#32cd32" />
<rect x="906" y="251" width="1" height="69" fill="#32cd32" />
<rect x="905" y="256" width="3" height="60" fill="#32cd32" />
<rect x="910" y="304" width="1" height="38" fill="#32cd32" />
<rect x="909" y="315" width="3" height="10" fill="#32cd32" />
<rect x="914" y="321" width="1" height="21" fill="#32cd32" />
<rect x="913" y="324" width="3" height="8" fill="#32cd32" />
<rect x="918" y="286" width="1" height="48" fill="#ff1500" />
<rect x="917" y="289" width="3" height="43" fill="#ff1500" />
<rect x="922" y="281" width="1" height="27" fill="#32cd32" />
<rect x="921" y="289" width="3" height="15" fill="#32cd32" />
<rect x="926" y="301" width="1" height="23" fill="#32cd32" />
<rect x="925" y="302" width="3" height="17" fill="#32cd32" />
<rect x="930" y="305" width="1" height="27" fill="#ff1500" />
<rect x="929" y="309" width="3" height="10" fill="#ff1500" />
<rect x="934" y="306" width="1" height="21" fill="#32cd32" />
<rect x="933" y="309" width="3" height="6" fill="#32cd32" />
<rect x="938" y="311" width="1" height="15" fill="#000" />
<rect x="937" y="315" width="3" height="1" fill="#000" />
<rect x="942" y="310" width="1" height="45" fill="#32cd32" />
<rect x="941" y="315" width="3" height="31" fill="#32cd32" />
<rect x="946" y="323" width="1" height="23" fill="#ff1500" />
<rect x="945" y="339" width="3" height="7" fill="#ff1500" />
<rect x="950" y="320" width="1" height="29" fill="#32cd32" />
<rect x="949" y="338" width="3" height="10" fill="#32cd32" />
<rect x="954" y="343" width="1" height="43" fill="#32cd32" />
<rect x="953" y="347" width="3" height="34" fill="#32cd32" />
<rect x="958" y="361" width="1" height="27" fill="#ff1500" />
<rect x="957" y="362" width="3" height="26" fill="#ff1500" />
<rect x="962" y="360" width="1" height="10" fill="#32cd32" />
<rect x="961" y="362" width="3" height="6" fill="#32cd32" />
<rect x="966" y="358" width="1" height="12" fill="#32cd32" />
<rect x="965" y="366" width="3" height="2" fill="#32cd32" />
<rect x="970" y="364" width="1" height="16" fill="#32cd32" />
<rect x="969" y="366" width="3" height="4" fill="#32cd32" />
<rect x="974" y="365" width="1" height="13" fill="#32cd32" />
<rect x="973" y="369" width="3" height="9" fill="#32cd32" />
<rect x="978" y="368" width="1" height="21" fill="#32cd32" />
<rect x="977" y="377" width="3" height="8" fill="#32cd32" />
<rect x="982" y="376" width="1" height="13" fill="#32cd32" />
<rect x="981" y="384" width="3" height="3" fill="#32cd32" />
<rect x="986" y="372" width="1" height="20" fill="#32cd32" />
<rect x="985" y="386" width="3" height="4" fill="#32cd32" />
<rect x="990" y="372" width="1" height="18" fill="#ff1500" />
<rect x="989" y="372" width="3" height="18" fill="#ff1500" />
<rect x="994" y="369" width="1" height="8" fill="#ff1500" />
<rect x="993" y="371" width="3" height="3" fill="#ff1500" />
<rect x="998" y="364" width="1" height="10" fill="#ff1500" />
<rect x="997" y="369" width="3" height="3" fill="#ff1500" />
<rect x="1002" y="360" width="1" height="14" fill="#32cd32" />
<rect x="1001" y="369" width="3" height="4" fill="#32cd32" />
<rect x="1006" y="357" width="1" height="19" fill="#ff1500" />
<rect x="1005" y="369" width="3" height="5" fill="#ff1500" />
<rect x="1010" y="350" width="1" height="24" fill="#ff1500" />
<rect x="1009" y="367" width="3" height="3" fill="#ff1500" />
<rect x="1014" y="364" width="1" height="21" fill="#32cd32" />
<rect x="1013" y="366" width="3" height="18" fill="#32cd32" />
<rect x="1018" y="370" width="1" height="21" fill="#ff1500" />
<rect x="1017" y="380" width="3" height="4" fill="#ff1500" />
<rect x="1022" y="374" width="1" height="22" fill="#32cd32" />
<rect x="1021" y="380" width="3" height="12" fill="#32cd32" />
<rect x="1026" y="387" width="1" height="21" fill="#32cd32" />
<rect x="1025" y="392" width="3" height="8" fill="#32cd32" />
<rect x="1030" y="392" width="1" height="16" fill="#32cd32" />
<rect x="1029" y="399" width="3" height="6" fill="#32cd32" />
<rect x="1034" y="390" width="1" height="18" fill="#ff1500" />
<rect x="1033" y="395" width="3" height="10" fill="#ff1500" />
<rect x="797" y="190" width="289" height="2" fill="#ff2a2a" />
<rect x="820" y="280" width="282" height="2" fill="#94c800" />
</g></g>
<path d="M544.5 474v9M916.5 504v6M813.5 498v5M240.5 493v3M988.5 508v3M875.5 484v4M296.5 487v4M69.5 477v4M885.5 485v4M915.5 510v5M596.5 467v4M103.5 453v3M304.5 480v3M918.5 496v3M266.5 490v3M679.5 515v3M68.5 481v3M543.5 483v8M914.5 515v3M876.5 488v4M209.5 475v5M291.5 486v3M902.5 494v3M295.5 491v3M171.5 461v3M488.5 482v3M814.5 503v3M241.5 496v3M546.5 461v5M883.5 493v4M264.5 497v4M811.5 488v5M905.5 506v5M105.5 459v3M344.5 475v4M545.5 466v8M263.5 501v4M343.5 479v3M206.5 463v3M416.5 490v4M812.5 493v5M877.5 492v4M681.5 510v3M400.5 496v3M43.5 477v3M31.5 479v3M265.5 493v4M399.5 493v3M903.5 497v5M542.5 491v5M906.5 511v3M210.5 480v3M293.5 491v3M904.5 502v4M345.5 472v3M45.5 482v3M595.5 471v4M917.5 499v5M415.5 494v3M332.5 472v3M878.5 496v3M173.5 456v3M598.5 460v3M104.5 456v3M597.5 463v4M239.5 490v3M417.5 487v3M33.5 474v3M67.5 484v4M207.5 466v5M810.5 485v3M642.5 483v3M297.5 484v3M884.5 489v4M208.5 471v4M401.5 499v3M9 486.5h1M24 486.5h1M46 486.5h1M51 486.5h1M58 486.5h2M63 486.5h1M222 486.5h5M231 486.5h1M286 486.5h1M302 486.5h1M388 486.5h1M418 486.5h1M420 486.5h7M481 486.5h1M489 486.5h1M529 486.5h3M643 486.5h1M779 486.5h1M784 486.5h1M788 486.5h1M800 486.5h2M803 486.5h2M871 486.5h1M889 486.5h1M891 486.5h1M896 486.5h1M671 514.5h2M680 514.5h1M907 514.5h2M953 514.5h1M955 514.5h1M980 514.5h7M257 502.5h1M402 502.5h2M657 502.5h1M704 502.5h1M708 502.5h1M718 502.5h1M725 502.5h2M742 502.5h5M833 502.5h1M839 502.5h2M843 502.5h2M924 502.5h1M928 502.5h1M933 502.5h6M996 502.5h4M1003 502.5h2M1012 502.5h1M17 494.5h1M19 494.5h1M270 494.5h5M294 494.5h1M394 494.5h1M459 494.5h1M466 494.5h1M476 494.5h1M496 494.5h2M504 494.5h1M513 494.5h1M521 494.5h2M541 494.5h1M647 494.5h2M764 494.5h1M772 494.5h3M860 494.5h1M866 494.5h1M17 493.5h1M20 493.5h1M269 493.5h1M275 493.5h1M281 493.5h2M393 493.5h1M395 493.5h1M442 493.5h1M459 493.5h1M477 493.5h1M495 493.5h1M505 493.5h1M512 493.5h1M523 493.5h1M540 493.5h1M646 493.5h1M764 493.5h1M770 493.5h2M775 493.5h1M861 493.5h1M865 493.5h1M867 493.5h1M901 493.5h1M669 511.5h1M686 511.5h1M734 511.5h2M822 511.5h1M827 511.5h1M951 511.5h1M957 511.5h1M973 511.5h2M987 511.5h1M1025 511.5h2M1031 511.5h1M15 491.5h1M21 491.5h1M234 491.5h2M267 491.5h1M278 491.5h1M283 491.5h1M392 491.5h1M398 491.5h1M439 491.5h1M444 491.5h2M457 491.5h2M479 491.5h1M493 491.5h1M506 491.5h1M511 491.5h1M524 491.5h1M539 491.5h1M645 491.5h1M765 491.5h1M767 491.5h1M776 491.5h1M862 491.5h2M868 491.5h1M900 491.5h1M305 479.5h1M340 479.5h1M376 479.5h1M485 479.5h2M586 479.5h1M640 479.5h1M793 479.5h1M795 479.5h1M16 492.5h1M20 492.5h1M234 492.5h1M268 492.5h1M276 492.5h2M279 492.5h2M283 492.5h1M392 492.5h1M396 492.5h3M440 492.5h2M443 492.5h1M458 492.5h1M478 492.5h1M494 492.5h1M505 492.5h1M512 492.5h1M523 492.5h1M540 492.5h1M646 492.5h1M765 492.5h1M768 492.5h2M775 492.5h1M861 492.5h1M864 492.5h1M867 492.5h1M900 492.5h1M75 469.5h1M109 469.5h1M130 469.5h2M135 469.5h1M141 469.5h2M159 469.5h1M165 469.5h1M310 469.5h1M315 469.5h1M330 469.5h1M351 469.5h1M356 469.5h1M550 469.5h1M578 469.5h1M617 469.5h1M619 469.5h1M634 469.5h1M409 496.5h1M411 496.5h1M460 496.5h1M465 496.5h1M468 496.5h2M475 496.5h1M499 496.5h1M503 496.5h1M514 496.5h5M651 496.5h1M751 496.5h2M755 496.5h1M763 496.5h1M859 496.5h1M8 483.5h1M26 483.5h1M28 483.5h3M211 483.5h1M230 483.5h1M298 483.5h2M303 483.5h1M342 483.5h1M385 483.5h2M483 483.5h1M790 483.5h1M797 483.5h1M873 483.5h2M886 483.5h1M668 508.5h1M682 508.5h1M688 508.5h1M732 508.5h1M739 508.5h1M820 508.5h1M829 508.5h1M941 508.5h1M943 508.5h1M948 508.5h2M958 508.5h6M1021 508.5h1M1033 508.5h1M8 484.5h1M25 484.5h1M49 484.5h2M212 484.5h2M216 484.5h4M228 484.5h3M289 484.5h2M300 484.5h1M303 484.5h1M387 484.5h1M482 484.5h1M782 484.5h1M789 484.5h1M798 484.5h1M872 484.5h1M886 484.5h2M894 484.5h1M79 462.5h1M106 462.5h1M189 462.5h1M192 462.5h1M196 462.5h2M199 462.5h2M203 462.5h2M547 462.5h1M612 462.5h1M626 462.5h1M631 462.5h1M18 495.5h1M294 495.5h1M410 495.5h1M460 495.5h1M465 495.5h1M467 495.5h1M476 495.5h1M498 495.5h1M504 495.5h1M513 495.5h1M519 495.5h2M649 495.5h2M753 495.5h2M763 495.5h1M860 495.5h1M2 481.5h2M7 481.5h1M44 481.5h1M341 481.5h1M378 481.5h5M484 481.5h1M487 481.5h1M641 481.5h1M792 481.5h1M796 481.5h1M15 490.5h1M22 490.5h1M54 490.5h1M233 490.5h1M236 490.5h1M284 490.5h1M292 490.5h1M391 490.5h1M430 490.5h1M437 490.5h2M446 490.5h1M455 490.5h2M479 490.5h1M492 490.5h1M506 490.5h2M511 490.5h1M525 490.5h1M538 490.5h1M645 490.5h1M766 490.5h1M776 490.5h1M862 490.5h1M868 490.5h1M899 490.5h1M10 487.5h1M24 487.5h1M52 487.5h1M57 487.5h1M64 487.5h1M232 487.5h1M285 487.5h1M389 487.5h1M427 487.5h1M481 487.5h1M490 487.5h1M527 487.5h2M532 487.5h3M643 487.5h1M778 487.5h1M785 487.5h1M787 487.5h1M802 487.5h1M870 487.5h1M890 487.5h1M896 487.5h1M77 465.5h1M107 465.5h1M148 465.5h1M156 465.5h1M169 465.5h2M190 465.5h1M548 465.5h1M553 465.5h1M555 465.5h1M561 465.5h2M614 465.5h1M624 465.5h1M632 465.5h1M75 470.5h1M110 470.5h1M128 470.5h2M132 470.5h3M160 470.5h1M164 470.5h1M309 470.5h1M316 470.5h1M329 470.5h1M331 470.5h1M346 470.5h5M357 470.5h1M579 470.5h1M618 470.5h1M635 470.5h1M81 459.5h1M93 459.5h1M95 459.5h1M172 459.5h1M187 459.5h1M599 459.5h2M611 459.5h1M87 455.5h1M91 455.5h1M97 455.5h1M174 455.5h1M179 455.5h1M80 460.5h1M94 460.5h1M172 460.5h1M188 460.5h1M194 460.5h1M611 460.5h1M629 460.5h2M85 456.5h2M92 456.5h1M96 456.5h1M180 456.5h1M247 498.5h2M251 498.5h2M407 498.5h1M414 498.5h1M461 498.5h1M463 498.5h1M502 498.5h1M654 498.5h1M749 498.5h1M757 498.5h1M759 498.5h2M849 498.5h1M852 498.5h4M858 498.5h1M879 498.5h4M920 498.5h1M670 513.5h1M680 513.5h1M825 513.5h2M952 513.5h1M956 513.5h1M977 513.5h3M986 513.5h1M1029 513.5h2M32 477.5h1M306 477.5h1M326 477.5h1M334 477.5h2M339 477.5h1M369 477.5h1M372 477.5h3M583 477.5h1M588 477.5h2M639 477.5h1M39 474.5h2M71 474.5h1M116 474.5h2M121 474.5h2M307 474.5h1M318 474.5h3M323 474.5h1M327 474.5h1M338 474.5h1M364 474.5h3M581 474.5h1M637 474.5h1M9 485.5h1M25 485.5h1M46 485.5h3M51 485.5h1M60 485.5h3M214 485.5h2M220 485.5h2M227 485.5h1M231 485.5h1M287 485.5h2M290 485.5h1M301 485.5h2M387 485.5h1M418 485.5h2M482 485.5h1M489 485.5h1M780 485.5h2M783 485.5h1M788 485.5h1M799 485.5h1M805 485.5h5M872 485.5h1M888 485.5h1M892 485.5h2M895 485.5h1M76 468.5h1M109 468.5h1M136 468.5h2M139 468.5h2M143 468.5h2M159 468.5h1M165 468.5h1M311 468.5h2M315 468.5h1M330 468.5h1M352 468.5h1M356 468.5h1M550 468.5h2M566 468.5h2M576 468.5h2M616 468.5h1M620 468.5h2M634 468.5h1M242 499.5h1M244 499.5h3M253 499.5h2M406 499.5h1M462 499.5h2M655 499.5h1M706 499.5h1M748 499.5h1M758 499.5h1M848 499.5h1M856 499.5h3M921 499.5h1M1009 499.5h2M77 466.5h1M108 466.5h1M147 466.5h1M157 466.5h1M167 466.5h2M354 466.5h1M549 466.5h1M552 466.5h1M556 466.5h2M559 466.5h2M563 466.5h1M572 466.5h3M614 466.5h1M623 466.5h1M633 466.5h1M7 482.5h1M26 482.5h2M30 482.5h1M298 482.5h1M342 482.5h1M383 482.5h2M483 482.5h1M641 482.5h1M791 482.5h1M797 482.5h1M874 482.5h1M669 510.5h1M684 510.5h2M687 510.5h1M733 510.5h1M736 510.5h3M821 510.5h1M828 510.5h1M951 510.5h1M957 510.5h1M971 510.5h2M1023 510.5h2M1032 510.5h1M42 476.5h1M70 476.5h1M306 476.5h1M325 476.5h2M333 476.5h1M336 476.5h1M339 476.5h1M368 476.5h1M582 476.5h1M590 476.5h5M638 476.5h1M675 516.5h1M911 516.5h2M954 516.5h1M11 488.5h2M23 488.5h1M53 488.5h1M56 488.5h1M65 488.5h2M232 488.5h1M238 488.5h1M285 488.5h1M389 488.5h1M428 488.5h1M433 488.5h2M449 488.5h3M480 488.5h1M490 488.5h1M526 488.5h1M535 488.5h1M644 488.5h1M777 488.5h1M786 488.5h1M869 488.5h1M897 488.5h1M13 489.5h2M23 489.5h1M53 489.5h1M55 489.5h1M66 489.5h1M233 489.5h1M237 489.5h2M284 489.5h1M292 489.5h1M390 489.5h1M429 489.5h1M431 489.5h2M435 489.5h2M447 489.5h2M452 489.5h3M480 489.5h1M491 489.5h1M508 489.5h3M525 489.5h1M536 489.5h2M644 489.5h1M777 489.5h1M869 489.5h1M898 489.5h1M259 504.5h1M658 504.5h6M703 504.5h1M710 504.5h1M716 504.5h1M721 504.5h2M729 504.5h2M741 504.5h1M832 504.5h1M926 504.5h1M939 504.5h1M990 504.5h2M1013 504.5h1M1017 504.5h2M667 507.5h1M689 507.5h1M714 507.5h1M732 507.5h1M740 507.5h1M819 507.5h1M829 507.5h1M941 507.5h1M944 507.5h2M947 507.5h1M989 507.5h1M1020 507.5h1M1034 507.5h1M249 497.5h2M408 497.5h1M412 497.5h3M461 497.5h1M464 497.5h1M470 497.5h5M500 497.5h2M503 497.5h1M652 497.5h2M750 497.5h1M756 497.5h1M761 497.5h2M850 497.5h2M859 497.5h1M882 497.5h1M919 497.5h1M256 501.5h1M404 501.5h1M656 501.5h1M705 501.5h1M708 501.5h1M747 501.5h1M834 501.5h5M845 501.5h2M923 501.5h1M929 501.5h1M931 501.5h2M1005 501.5h2M1011 501.5h1M260 505.5h3M664 505.5h3M692 505.5h4M700 505.5h3M711 505.5h1M716 505.5h1M731 505.5h1M741 505.5h1M815 505.5h1M831 505.5h1M940 505.5h1M990 505.5h1M1013 505.5h1M1015 505.5h2M1019 505.5h1M262 506.5h1M667 506.5h1M690 506.5h2M696 506.5h4M712 506.5h2M715 506.5h1M731 506.5h1M740 506.5h1M816 506.5h3M830 506.5h1M940 506.5h1M946 506.5h1M989 506.5h1M1014 506.5h1M1020 506.5h1M76 467.5h1M108 467.5h1M138 467.5h1M145 467.5h2M158 467.5h1M166 467.5h1M313 467.5h2M353 467.5h1M355 467.5h1M549 467.5h1M552 467.5h1M558 467.5h1M564 467.5h2M568 467.5h4M575 467.5h1M615 467.5h1M622 467.5h1M633 467.5h1M670 512.5h1M823 512.5h2M827 512.5h1M952 512.5h1M956 512.5h1M975 512.5h2M987 512.5h1M1027 512.5h2M1031 512.5h1M34 473.5h1M36 473.5h3M72 473.5h1M114 473.5h2M123 473.5h2M162 473.5h1M308 473.5h1M317 473.5h1M321 473.5h2M328 473.5h1M361 473.5h3M580 473.5h1M636 473.5h1M78 463.5h1M106 463.5h1M150 463.5h5M189 463.5h1M192 463.5h1M198 463.5h1M205 463.5h1M547 463.5h1M613 463.5h1M625 463.5h1M631 463.5h1M242 500.5h2M255 500.5h1M405 500.5h1M462 500.5h1M655 500.5h1M705 500.5h1M707 500.5h1M748 500.5h1M847 500.5h1M922 500.5h1M930 500.5h1M1007 500.5h2M1011 500.5h1M82 458.5h1M93 458.5h1M95 458.5h1M182 458.5h2M187 458.5h1M601 458.5h3M608 458.5h3M83 457.5h2M92 457.5h1M96 457.5h1M181 457.5h1M184 457.5h3M604 457.5h4M78 464.5h1M107 464.5h1M149 464.5h1M155 464.5h1M170 464.5h1M190 464.5h2M548 464.5h1M554 464.5h1M613 464.5h1M624 464.5h1M632 464.5h1M88 454.5h2M91 454.5h1M97 454.5h1M174 454.5h5M41 475.5h2M70 475.5h1M118 475.5h3M307 475.5h1M318 475.5h1M324 475.5h1M327 475.5h1M333 475.5h1M337 475.5h2M367 475.5h1M581 475.5h1M594 475.5h1M637 475.5h1M4 480.5h3M44 480.5h1M341 480.5h1M377 480.5h1M485 480.5h1M487 480.5h1M640 480.5h1M792 480.5h1M795 480.5h1M258 503.5h1M402 503.5h1M657 503.5h1M703 503.5h1M709 503.5h1M717 503.5h1M719 503.5h2M723 503.5h2M727 503.5h2M742 503.5h1M832 503.5h1M841 503.5h2M925 503.5h1M927 503.5h1M939 503.5h1M992 503.5h4M1000 503.5h3M1012 503.5h1M34 472.5h2M73 472.5h1M112 472.5h2M125 472.5h2M161 472.5h1M163 472.5h1M308 472.5h1M317 472.5h1M328 472.5h1M359 472.5h2M580 472.5h1M636 472.5h1M32 478.5h1M305 478.5h1M334 478.5h1M340 478.5h1M370 478.5h2M375 478.5h1M486 478.5h1M584 478.5h2M587 478.5h1M639 478.5h1M794 478.5h1M668 509.5h1M682 509.5h2M688 509.5h1M733 509.5h1M739 509.5h1M820 509.5h1M828 509.5h1M942 509.5h1M950 509.5h1M958 509.5h1M964 509.5h7M1022 509.5h1M1033 509.5h1M79 461.5h1M188 461.5h1M193 461.5h1M195 461.5h1M201 461.5h2M612 461.5h1M627 461.5h2M630 461.5h1M100 451.5h3M74 471.5h1M111 471.5h1M127 471.5h1M161 471.5h1M163 471.5h1M309 471.5h1M316 471.5h1M329 471.5h1M331 471.5h1M346 471.5h1M358 471.5h1M579 471.5h1M635 471.5h1M673 515.5h2M909 515.5h2M953 515.5h1M955 515.5h1M90 453.5h1M98 453.5h1M677 518.5h2M98 452.5h2M102 452.5h1M676 517.5h1M913 517.5h1M678 519.5h1" fill="none" stroke="#1e90ff" stroke-width="1" shape-rendering="crispEdges"/>
<text x="1307.5" y="54.8" font-size="9.5" fill="#000" textLength="33.5" lengthAdjust="spacingAndGlyphs" stroke="#000" stroke-width="0.14">0.73920</text>
<text x="1307.5" y="87.8" font-size="9.5" fill="#000" textLength="33.5" lengthAdjust="spacingAndGlyphs" stroke="#000" stroke-width="0.14">0.73580</text>
<text x="1307.5" y="120.8" font-size="9.5" fill="#000" textLength="33.5" lengthAdjust="spacingAndGlyphs" stroke="#000" stroke-width="0.14">0.73230</text>
<text x="1307.5" y="153.8" font-size="9.5" fill="#000" textLength="33.5" lengthAdjust="spacingAndGlyphs" stroke="#000" stroke-width="0.14">0.72880</text>
<text x="1307.5" y="186.8" font-size="9.5" fill="#000" textLength="33.5" lengthAdjust="spacingAndGlyphs" stroke="#000" stroke-width="0.14">0.72530</text>
<text x="1307.5" y="219.8" font-size="9.5" fill="#000" textLength="33.5" lengthAdjust="spacingAndGlyphs" stroke="#000" stroke-width="0.14">0.72180</text>
<text x="1307.5" y="252.8" font-size="9.5" fill="#000" textLength="33.5" lengthAdjust="spacingAndGlyphs" stroke="#000" stroke-width="0.14">0.71830</text>
<text x="1307.5" y="285.8" font-size="9.5" fill="#000" textLength="33.5" lengthAdjust="spacingAndGlyphs" stroke="#000" stroke-width="0.14">0.71480</text>
<text x="1307.5" y="318.8" font-size="9.5" fill="#000" textLength="33.5" lengthAdjust="spacingAndGlyphs" stroke="#000" stroke-width="0.14">0.71130</text>
<text x="1307.5" y="351.8" font-size="9.5" fill="#000" textLength="33.5" lengthAdjust="spacingAndGlyphs" stroke="#000" stroke-width="0.14">0.70780</text>
<text x="1307.5" y="384.8" font-size="9.5" fill="#000" textLength="33.5" lengthAdjust="spacingAndGlyphs" stroke="#000" stroke-width="0.14">0.70440</text>
<text x="1307.5" y="417.8" font-size="9.5" fill="#000" textLength="33.5" lengthAdjust="spacingAndGlyphs" stroke="#000" stroke-width="0.14">0.70090</text>
<rect x="1304" y="390" width="41" height="11" fill="#000" shape-rendering="crispEdges"/>
<text x="1307.5" y="398.8" font-size="9.5" fill="#fff" textLength="33.5" lengthAdjust="spacingAndGlyphs" stroke="#fff" stroke-width="0.14">0.70287</text>
<text x="1306" y="430.3" font-size="9.5" fill="#000" textLength="14.5" lengthAdjust="spacingAndGlyphs" stroke="#000" stroke-width="0.14">100</text>
<text x="1306" y="464.8" font-size="9.5" fill="#000" textLength="9.5" lengthAdjust="spacingAndGlyphs" stroke="#000" stroke-width="0.14">70</text>
<text x="1306" y="515.8" font-size="9.5" fill="#000" textLength="9.5" lengthAdjust="spacingAndGlyphs" stroke="#000" stroke-width="0.14">30</text>
<text x="1306" y="548.8" font-size="9.5" fill="#000" stroke="#000" stroke-width="0.14">0</text>
<text x="1.3" y="565.2" font-size="9.6" fill="#000" textLength="51.5" lengthAdjust="spacingAndGlyphs" stroke="#000" stroke-width="0.14">29 Oct 2018</text>
<text x="65.3" y="565.2" font-size="9.6" fill="#000" textLength="51.5" lengthAdjust="spacingAndGlyphs" stroke="#000" stroke-width="0.14">1 Nov 00:00</text>
<text x="129.3" y="565.2" font-size="9.6" fill="#000" textLength="51.5" lengthAdjust="spacingAndGlyphs" stroke="#000" stroke-width="0.14">5 Nov 19:00</text>
<text x="193.3" y="565.2" font-size="9.6" fill="#000" textLength="51.5" lengthAdjust="spacingAndGlyphs" stroke="#000" stroke-width="0.14">8 Nov 11:00</text>
<text x="257.3" y="565.2" font-size="9.6" fill="#000" textLength="57" lengthAdjust="spacingAndGlyphs" stroke="#000" stroke-width="0.14">13 Nov 00:00</text>
<text x="321.3" y="565.2" font-size="9.6" fill="#000" textLength="57" lengthAdjust="spacingAndGlyphs" stroke="#000" stroke-width="0.14">15 Nov 19:00</text>
<text x="385.3" y="565.2" font-size="9.6" fill="#000" textLength="57" lengthAdjust="spacingAndGlyphs" stroke="#000" stroke-width="0.14">20 Nov 11:00</text>
<text x="449.3" y="565.2" font-size="9.6" fill="#000" textLength="57" lengthAdjust="spacingAndGlyphs" stroke="#000" stroke-width="0.14">23 Nov 00:00</text>
<text x="513.3" y="565.2" font-size="9.6" fill="#000" textLength="57" lengthAdjust="spacingAndGlyphs" stroke="#000" stroke-width="0.14">27 Nov 19:00</text>
<text x="577.3" y="565.2" font-size="9.6" fill="#000" textLength="57" lengthAdjust="spacingAndGlyphs" stroke="#000" stroke-width="0.14">30 Nov 11:00</text>
<text x="641.3" y="565.2" font-size="9.6" fill="#000" textLength="51.5" lengthAdjust="spacingAndGlyphs" stroke="#000" stroke-width="0.14">5 Dec 00:00</text>
<text x="705.3" y="565.2" font-size="9.6" fill="#000" textLength="51.5" lengthAdjust="spacingAndGlyphs" stroke="#000" stroke-width="0.14">7 Dec 19:00</text>
<text x="769.3" y="565.2" font-size="9.6" fill="#000" textLength="57" lengthAdjust="spacingAndGlyphs" stroke="#000" stroke-width="0.14">12 Dec 11:00</text>
<text x="833.3" y="565.2" font-size="9.6" fill="#000" textLength="57" lengthAdjust="spacingAndGlyphs" stroke="#000" stroke-width="0.14">15 Dec 00:00</text>
<text x="897.3" y="565.2" font-size="9.6" fill="#000" textLength="57" lengthAdjust="spacingAndGlyphs" stroke="#000" stroke-width="0.14">19 Dec 19:00</text>
<text x="961.3" y="565.2" font-size="9.6" fill="#000" textLength="57" lengthAdjust="spacingAndGlyphs" stroke="#000" stroke-width="0.14">24 Dec 11:00</text>
<text x="1025.3" y="565.2" font-size="9.6" fill="#000" textLength="57" lengthAdjust="spacingAndGlyphs" stroke="#000" stroke-width="0.14">27 Dec 23:00</text>
<path d="M5 42 L12 42 L8.5 38 Z" fill="#000"/>
<text x="17.5" y="43" font-size="9.6" fill="#000" textLength="55.5" lengthAdjust="spacingAndGlyphs" stroke="#000" stroke-width="0.14">AUDUSD,H4</text>
<text x="79.3" y="43" font-size="9.6" fill="#000" textLength="31.5" lengthAdjust="spacingAndGlyphs" stroke="#000" stroke-width="0.14">0.70195</text>
<text x="114.9" y="43" font-size="9.6" fill="#000" textLength="32.5" lengthAdjust="spacingAndGlyphs" stroke="#000" stroke-width="0.14">0.70342</text>
<text x="151" y="43" font-size="9.6" fill="#000" textLength="32.9" lengthAdjust="spacingAndGlyphs" stroke="#000" stroke-width="0.14">0.70163</text>
<text x="187.7" y="43" font-size="9.6" fill="#000" textLength="32.2" lengthAdjust="spacingAndGlyphs" stroke="#000" stroke-width="0.14">0.70287</text>
<text x="6.4" y="432.5" font-size="9.6" fill="#000" textLength="67.6" lengthAdjust="spacingAndGlyphs" stroke="#000" stroke-width="0.14">RSI(14) 35.0236</text>
<g shape-rendering="crispEdges">
<rect x="5" y="51" width="52" height="24" fill="url(#rg)" />
<rect x="172" y="51" width="52" height="24" fill="url(#rg)" />
<rect x="5" y="75" width="109" height="40" fill="url(#rg)" />
<rect x="116" y="75" width="108" height="40" fill="url(#rg)" />
<rect x="5" y="51" width="52" height="1" fill="#c81c1c" />
<rect x="5" y="51" width="1" height="64" fill="#c81c1c" />
<rect x="56" y="51" width="1" height="24" fill="#c81c1c" />
<rect x="57" y="75" width="57" height="1" fill="#b81818" />
<rect x="113" y="75" width="1" height="40" fill="#b01010" />
<rect x="172" y="51" width="52" height="1" fill="#c81c1c" />
<rect x="172" y="51" width="1" height="24" fill="#c81c1c" />
<rect x="223" y="51" width="1" height="64" fill="#c81c1c" />
<rect x="116" y="75" width="56" height="1" fill="#b81818" />
<rect x="116" y="75" width="1" height="40" fill="#c01616" />
<rect x="5" y="114" width="109" height="1" fill="#9c0000" />
<rect x="116" y="114" width="108" height="1" fill="#9c0000" />
<rect x="9" y="74" width="44" height="1" fill="#8e0808" />
<rect x="176" y="74" width="44" height="1" fill="#8e0808" />
<rect x="9" y="75" width="44" height="1" fill="#ea5a5a" />
<rect x="176" y="75" width="44" height="1" fill="#ea5a5a" />
<rect x="59" y="51" width="111" height="22" fill="#b2b5bd" />
<rect x="60" y="52" width="109" height="20" fill="#ffffff" />
<rect x="61" y="52" width="19" height="20" fill="url(#bg)" />
<rect x="80" y="52" width="1" height="20" fill="#b2b5bd" />
<rect x="149" y="52" width="19" height="20" fill="url(#bg)" />
<rect x="148" y="52" width="1" height="20" fill="#b2b5bd" />
</g>
<path d="M67 60 L72.4 60 L69.7 63 Z" fill="#4a62c4"/>
<path d="M155.6 62.8 L161 62.8 L158.3 59.8 Z" fill="#4a62c4"/>
<text x="17" y="67" font-size="13" fill="#fff0f0" textLength="26" lengthAdjust="spacingAndGlyphs" >SELL</text>
<text x="185.7" y="67" font-size="13" fill="#fff0f0" textLength="22.8" lengthAdjust="spacingAndGlyphs" >BUY</text>
<text x="121.3" y="65.8" font-size="12.3" fill="#000" textLength="24.2" lengthAdjust="spacingAndGlyphs" >0.50</text>
<text x="24.6" y="106" font-size="12" fill="#fff" textLength="24.6" lengthAdjust="spacingAndGlyphs" font-weight="bold" >0.70</text>
<text x="52" y="106" font-size="35" fill="#fff" textLength="36" lengthAdjust="spacingAndGlyphs" stroke="url(#rg)" stroke-width="0.35">28</text>
<text x="91.5" y="89.5" font-size="12" fill="#fff" textLength="7.5" lengthAdjust="spacingAndGlyphs" font-weight="bold" >7</text>
<text x="134.6" y="106" font-size="12" fill="#fff" textLength="24.4" lengthAdjust="spacingAndGlyphs" font-weight="bold" >0.70</text>
<text x="163.5" y="106" font-size="35" fill="#fff" textLength="36" lengthAdjust="spacingAndGlyphs" stroke="url(#rg)" stroke-width="0.35">31</text>
<text x="202.3" y="90" font-size="12" fill="#fff" textLength="7.5" lengthAdjust="spacingAndGlyphs" font-weight="bold" >0</text>
<g shape-rendering="crispEdges">
<rect x="0" y="573" width="1348" height="1" fill="#e6e6e6" />
<rect x="0" y="576" width="1348" height="19" fill="#f0f0f0" />
<rect x="0" y="575" width="1350" height="1" fill="#000" />
<rect x="96" y="575" width="91" height="18" fill="#fff" />
<rect x="95" y="575" width="1" height="19" fill="#000" />
<rect x="186" y="575" width="1" height="19" fill="#000" />
<rect x="95" y="593" width="92" height="1" fill="#000" />
<rect x="0" y="595" width="1348" height="1" fill="#fbfbfb" />
<rect x="0" y="596" width="1348" height="2" fill="#f0f0f0" />
<rect x="0" y="598" width="1347" height="1" fill="#bdbdbd" />
<rect x="0" y="599" width="1347" height="1" fill="#8c8c8c" />
<rect x="275" y="578" width="1" height="14" fill="#808080" />
<rect x="379" y="578" width="1" height="14" fill="#808080" />
<rect x="471" y="578" width="1" height="14" fill="#808080" />
<rect x="555" y="578" width="1" height="14" fill="#808080" />
<rect x="659" y="578" width="1" height="14" fill="#808080" />
<rect x="759" y="578" width="1" height="14" fill="#808080" />
<rect x="836" y="578" width="1" height="14" fill="#808080" />
</g>
<text x="15.0" y="590" font-size="13" fill="#6e6e6e" textLength="67.5" lengthAdjust="spacingAndGlyphs" >EURUSD,H4</text>
<text x="105.5" y="590" font-size="13" fill="#000" textLength="71.3" lengthAdjust="spacingAndGlyphs" >AUDUSD,H4</text>
<text x="196.5" y="590" font-size="13" fill="#6e6e6e" textLength="68" lengthAdjust="spacingAndGlyphs" >USDCHF,H4</text>
<text x="286.5" y="590" font-size="13" fill="#6e6e6e" textLength="81" lengthAdjust="spacingAndGlyphs" >USDCAD,Daily</text>
<text x="389.1" y="590" font-size="13" fill="#6e6e6e" textLength="71.0" lengthAdjust="spacingAndGlyphs" >USDCNH,H4</text>
<text x="480.1" y="590" font-size="13" fill="#6e6e6e" textLength="63.7" lengthAdjust="spacingAndGlyphs" >USDJPY,H4</text>
<text x="565.5" y="590" font-size="13" fill="#6e6e6e" textLength="81.6" lengthAdjust="spacingAndGlyphs" >XAUUSD,Daily</text>
<text x="670.3" y="590" font-size="13" fill="#6e6e6e" textLength="77.6" lengthAdjust="spacingAndGlyphs" >GBPUSD,M15</text>
<text x="769.5" y="590" font-size="13" fill="#6e6e6e" textLength="54" lengthAdjust="spacingAndGlyphs" >SP500,H1</text>
<path d="M1318 584 L1321.5 581 L1321.5 587 Z" fill="#8a8a8a"/>
<path d="M1340.5 584 L1337 581 L1337 587 Z" fill="#8a8a8a"/>
</svg></body></html>
